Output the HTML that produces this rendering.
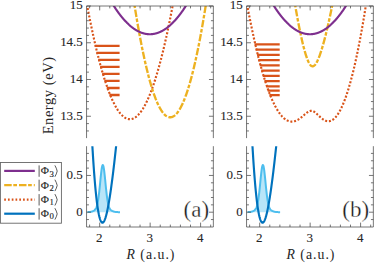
<!DOCTYPE html>
<html><head><meta charset="utf-8"><title>fig</title>
<style>html,body{margin:0;padding:0;background:#fff}svg{display:block}text{font-family:"Liberation Serif",serif}</style></head><body>
<svg width="374" height="263" viewBox="0 0 374 263">
<rect width="374" height="263" fill="#fff"/>
<clipPath id="cu0"><rect x="86.55" y="6.00" width="126.80" height="132.10"/></clipPath>
<clipPath id="cl0"><rect x="86.55" y="146.20" width="126.80" height="80.80"/></clipPath>
<g clip-path="url(#cu0)" fill="none" stroke-width="2.15">
<path d="M84.89,-6.81 L85.14,-5.41 L85.39,-4.02 L85.64,-2.64 L85.90,-1.26 L86.15,0.10 L86.40,1.47 L86.65,2.82 L86.90,4.16 L87.15,5.50 L87.40,6.83 L87.65,8.15 L87.90,9.46 L88.15,10.77 L88.40,12.07 L88.65,13.36 L88.90,14.64 L89.16,15.91 L89.41,17.18 L89.66,18.44 L89.91,19.69 L90.16,20.93 L90.41,22.17 L90.66,23.39 L90.91,24.61 L91.16,25.83 L91.41,27.03 L91.66,28.23 L91.91,29.41 L92.16,30.59 L92.41,31.77 L92.67,32.93 L92.92,34.09 L93.17,35.24 L93.42,36.38 L93.67,37.51 L93.92,38.64 L94.17,39.76 L94.42,40.87 L94.67,41.97 L94.92,43.07 L95.17,44.15 L95.42,45.23 L95.67,46.30 L95.93,47.37 L96.18,48.42 L96.43,49.47 L96.68,50.51 L96.93,51.54 L97.18,52.56 L97.43,53.58 L97.68,54.59 L97.93,55.59 L98.18,56.58 L98.43,57.57 L98.68,58.55 L98.93,59.52 L99.19,60.48 L99.44,61.43 L99.69,62.38 L99.94,63.32 L100.19,64.25 L100.44,65.17 L100.69,66.08 L100.94,66.99 L101.19,67.89 L101.44,68.78 L101.69,69.67 L101.94,70.54 L102.19,71.41 L102.44,72.27 L102.70,73.12 L102.95,73.97 L103.20,74.80 L103.45,75.63 L103.70,76.45 L103.95,77.27 L104.20,78.07 L104.45,78.87 L104.70,79.66 L104.95,80.44 L105.20,81.22 L105.45,81.98 L105.70,82.74 L105.96,83.49 L106.21,84.24 L106.46,84.97 L106.71,85.70 L106.96,86.42 L107.21,87.13 L107.46,87.83 L107.71,88.53 L107.96,89.22 L108.21,89.90 L108.46,90.57 L108.71,91.24 L108.96,91.89 L109.22,92.54 L109.47,93.18 L109.72,93.82 L109.97,94.44 L110.22,95.06 L110.47,95.67 L110.72,96.27 L110.97,96.87 L111.22,97.46 L111.47,98.03 L111.72,98.61 L111.97,99.17 L112.22,99.72 L112.48,100.27 L112.73,100.81 L112.98,101.34 L113.23,101.87 L113.48,102.38 L113.73,102.89 L113.98,103.39 L114.23,103.89 L114.48,104.37 L114.73,104.85 L114.98,105.32 L115.23,105.78 L115.48,106.24 L115.73,106.68 L115.99,107.12 L116.24,107.55 L116.49,107.97 L116.74,108.39 L116.99,108.79 L117.24,109.19 L117.49,109.59 L117.74,109.97 L117.99,110.34 L118.24,110.71 L118.49,111.07 L118.74,111.43 L118.99,111.77 L119.25,112.11 L119.50,112.44 L119.75,112.76 L120.00,113.07 L120.25,113.38 L120.50,113.67 L120.75,113.96 L121.00,114.25 L121.25,114.52 L121.50,114.79 L121.75,115.04 L122.00,115.30 L122.25,115.54 L122.50,115.77 L122.76,116.00 L123.01,116.22 L123.26,116.43 L123.51,116.64 L123.76,116.83 L124.01,117.02 L124.26,117.20 L124.51,117.37 L124.76,117.54 L125.01,117.70 L125.26,117.84 L125.51,117.99 L125.76,118.12 L126.02,118.25 L126.27,118.36 L126.52,118.47 L126.77,118.58 L127.02,118.67 L127.27,118.76 L127.52,118.84 L127.77,118.91 L128.02,118.97 L128.27,119.03 L128.52,119.07 L128.77,119.11 L129.02,119.15 L129.28,119.17 L129.53,119.19 L129.78,119.19 L130.03,119.20 L130.28,119.19 L130.53,119.17 L130.78,119.15 L131.03,119.12 L131.28,119.08 L131.53,119.04 L131.78,118.98 L132.03,118.92 L132.28,118.85 L132.53,118.77 L132.79,118.69 L133.04,118.60 L133.29,118.49 L133.54,118.39 L133.79,118.27 L134.04,118.15 L134.29,118.01 L134.54,117.87 L134.79,117.73 L135.04,117.57 L135.29,117.41 L135.54,117.24 L135.79,117.06 L136.05,116.87 L136.30,116.68 L136.55,116.47 L136.80,116.26 L137.05,116.05 L137.30,115.82 L137.55,115.59 L137.80,115.34 L138.05,115.10 L138.30,114.84 L138.55,114.57 L138.80,114.30 L139.05,114.02 L139.31,113.73 L139.56,113.44 L139.81,113.13 L140.06,112.82 L140.31,112.50 L140.56,112.17 L140.81,111.84 L141.06,111.49 L141.31,111.14 L141.56,110.79 L141.81,110.42 L142.06,110.04 L142.31,109.66 L142.56,109.27 L142.82,108.88 L143.07,108.47 L143.32,108.06 L143.57,107.64 L143.82,107.21 L144.07,106.77 L144.32,106.32 L144.57,105.87 L144.82,105.41 L145.07,104.94 L145.32,104.47 L145.57,103.98 L145.82,103.49 L146.08,102.99 L146.33,102.49 L146.58,101.97 L146.83,101.45 L147.08,100.92 L147.33,100.38 L147.58,99.83 L147.83,99.28 L148.08,98.72 L148.33,98.15 L148.58,97.57 L148.83,96.99 L149.08,96.39 L149.34,95.79 L149.59,95.18 L149.84,94.57 L150.09,93.94 L150.34,93.31 L150.59,92.67 L150.84,92.02 L151.09,91.37 L151.34,90.71 L151.59,90.03 L151.84,89.35 L152.09,88.67 L152.34,87.97 L152.59,87.27 L152.85,86.56 L153.10,85.84 L153.35,85.12 L153.60,84.38 L153.85,83.64 L154.10,82.89 L154.35,82.14 L154.60,81.37 L154.85,80.60 L155.10,79.82 L155.35,79.03 L155.60,78.23 L155.85,77.43 L156.11,76.62 L156.36,75.80 L156.61,74.97 L156.86,74.14 L157.11,73.29 L157.36,72.44 L157.61,71.58 L157.86,70.72 L158.11,69.84 L158.36,68.96 L158.61,68.07 L158.86,67.17 L159.11,66.27 L159.37,65.35 L159.62,64.43 L159.87,63.50 L160.12,62.57 L160.37,61.62 L160.62,60.67 L160.87,59.71 L161.12,58.74 L161.37,57.77 L161.62,56.78 L161.87,55.79 L162.12,54.79 L162.37,53.78 L162.62,52.77 L162.88,51.75 L163.13,50.72 L163.38,49.68 L163.63,48.63 L163.88,47.58 L164.13,46.52 L164.38,45.45 L164.63,44.37 L164.88,43.28 L165.13,42.19 L165.38,41.09 L165.63,39.98 L165.88,38.86 L166.14,37.74 L166.39,36.61 L166.64,35.47 L166.89,34.32 L167.14,33.16 L167.39,32.00 L167.64,30.83 L167.89,29.65 L168.14,28.46 L168.39,27.27 L168.64,26.07 L168.89,24.86 L169.14,23.64 L169.40,22.41 L169.65,21.18 L169.90,19.94 L170.15,18.69 L170.40,17.43 L170.65,16.17 L170.90,14.89 L171.15,13.61 L171.40,12.32 L171.65,11.03 L171.90,9.72 L172.15,8.41 L172.40,7.09 L172.65,5.77 L172.91,4.43 L173.16,3.09 L173.41,1.74 L173.66,0.38 L173.91,-0.99 L174.16,-2.36 L174.41,-3.75 L174.66,-5.14 L174.91,-6.53 L175.16,-7.94 L175.41,-9.35 L175.66,-10.77 L175.91,-12.20 L176.17,-13.64 L176.42,-15.08 L176.67,-16.54 L176.92,-18.00 L177.17,-19.46 L177.42,-20.94 L177.67,-22.42 L177.92,-23.92 L178.17,-25.41 L178.42,-26.92 L178.67,-28.44 L178.92,-29.96 L179.17,-31.49 L179.43,-33.03 L179.68,-34.57 L179.93,-36.13 L180.18,-37.69 L180.43,-39.26 L180.68,-40.84 L180.93,-42.42 L181.18,-44.02 L181.43,-45.62 L181.68,-47.23 L181.93,-48.84 L182.18,-50.47 L182.43,-52.10 L182.68,-53.74 L182.94,-55.39 L183.19,-57.04 L183.44,-58.71 L183.69,-60.38 L183.94,-62.06 L184.19,-63.74 L184.44,-65.44 L184.69,-67.14 L184.94,-68.85 L185.19,-70.57 L185.44,-72.29 L185.69,-74.03 L185.94,-75.77 L186.20,-77.52 L186.45,-79.28 L186.70,-81.04 L186.95,-82.81 L187.20,-84.59 L187.45,-86.38 L187.70,-88.18 L187.95,-89.98 L188.20,-91.79 L188.45,-93.61 L188.70,-95.44 L188.95,-97.28 L189.20,-99.12 L189.46,-100.97 L189.71,-102.83 L189.96,-104.70 L190.21,-106.57 L190.46,-108.45 L190.71,-110.34 L190.96,-112.24 L191.21,-114.15 L191.46,-116.06 L191.71,-117.98 L191.96,-119.91 L192.21,-121.85 L192.46,-123.79 L192.71,-125.74 L192.97,-127.70 L193.22,-129.67 L193.47,-131.65 L193.72,-133.63 L193.97,-135.62 L194.22,-137.62 L194.47,-139.63 L194.72,-141.64 L194.97,-143.67 L195.22,-145.70 L195.47,-147.74 L195.72,-149.78 L195.97,-151.84 L196.23,-153.90 L196.48,-155.97 L196.73,-158.05 L196.98,-160.13 L197.23,-162.22 L197.48,-164.33 L197.73,-166.43 L197.98,-168.55 L198.23,-170.68 L198.48,-172.81 L198.73,-174.95 L198.98,-177.10 L199.23,-179.25 L199.49,-181.41 L199.74,-183.59 L199.99,-185.76 L200.24,-187.95 L200.49,-190.15 L200.74,-192.35 L200.99,-194.56 L201.24,-196.78 L201.49,-199.00 L201.74,-201.24 L201.99,-203.48 L202.24,-205.73 L202.49,-207.98 L202.75,-210.25 L203.00,-212.52 L203.25,-214.80 L203.50,-217.09 L203.75,-219.39 L204.00,-221.69 L204.25,-224.00 L204.50,-226.32 L204.75,-228.65 L205.00,-230.99 L205.25,-233.33 L205.50,-235.68 L205.75,-238.04 L206.00,-240.41 L206.26,-242.78 L206.51,-245.16 L206.76,-247.55 L207.01,-249.95 L207.26,-252.36 L207.51,-254.77 L207.76,-257.19 L208.01,-259.62 L208.26,-262.06 L208.51,-264.50 L208.76,-266.95 L209.01,-269.41 L209.26,-271.88 L209.52,-274.36 L209.77,-276.84 L210.02,-279.33 L210.27,-281.83 L210.52,-284.34 L210.77,-286.86 L211.02,-289.38 L211.27,-291.91 L211.52,-294.45 L211.77,-296.99 L212.02,-299.55 L212.27,-302.11 L212.52,-304.68 L212.78,-307.26 L213.03,-309.84 L213.28,-312.44 L213.53,-315.04 L213.78,-317.64 L214.03,-320.26 L214.28,-322.89 L214.53,-325.52 L214.78,-328.16 L215.03,-330.81 L215.28,-333.46" stroke="#D95319" stroke-dasharray="2.0 1.77" stroke-width="2.15"/>
<path d="M84.89,-524.21 L85.14,-520.44 L85.39,-516.68 L85.64,-512.94 L85.90,-509.20 L86.15,-505.48 L86.40,-501.77 L86.65,-498.07 L86.90,-494.38 L87.15,-490.70 L87.40,-487.03 L87.65,-483.37 L87.90,-479.73 L88.15,-476.09 L88.40,-472.47 L88.65,-468.85 L88.90,-465.25 L89.16,-461.66 L89.41,-458.08 L89.66,-454.52 L89.91,-450.96 L90.16,-447.41 L90.41,-443.88 L90.66,-440.35 L90.91,-436.84 L91.16,-433.34 L91.41,-429.85 L91.66,-426.37 L91.91,-422.90 L92.16,-419.44 L92.41,-416.00 L92.67,-412.56 L92.92,-409.14 L93.17,-405.73 L93.42,-402.32 L93.67,-398.93 L93.92,-395.55 L94.17,-392.19 L94.42,-388.83 L94.67,-385.48 L94.92,-382.15 L95.17,-378.82 L95.42,-375.51 L95.67,-372.21 L95.93,-368.92 L96.18,-365.64 L96.43,-362.37 L96.68,-359.11 L96.93,-355.87 L97.18,-352.63 L97.43,-349.41 L97.68,-346.19 L97.93,-342.99 L98.18,-339.80 L98.43,-336.62 L98.68,-333.45 L98.93,-330.30 L99.19,-327.15 L99.44,-324.01 L99.69,-320.89 L99.94,-317.78 L100.19,-314.67 L100.44,-311.58 L100.69,-308.50 L100.94,-305.43 L101.19,-302.38 L101.44,-299.33 L101.69,-296.30 L101.94,-293.27 L102.19,-290.26 L102.44,-287.26 L102.70,-284.26 L102.95,-281.28 L103.20,-278.32 L103.45,-275.36 L103.70,-272.41 L103.95,-269.48 L104.20,-266.55 L104.45,-263.64 L104.70,-260.74 L104.95,-257.84 L105.20,-254.96 L105.45,-252.10 L105.70,-249.24 L105.96,-246.39 L106.21,-243.55 L106.46,-240.73 L106.71,-237.92 L106.96,-235.11 L107.21,-232.32 L107.46,-229.54 L107.71,-226.77 L107.96,-224.02 L108.21,-221.27 L108.46,-218.53 L108.71,-215.81 L108.96,-213.10 L109.22,-210.39 L109.47,-207.70 L109.72,-205.02 L109.97,-202.35 L110.22,-199.69 L110.47,-197.05 L110.72,-194.41 L110.97,-191.79 L111.22,-189.17 L111.47,-186.57 L111.72,-183.98 L111.97,-181.40 L112.22,-178.83 L112.48,-176.27 L112.73,-173.72 L112.98,-171.19 L113.23,-168.66 L113.48,-166.15 L113.73,-163.65 L113.98,-161.15 L114.23,-158.67 L114.48,-156.20 L114.73,-153.75 L114.98,-151.30 L115.23,-148.86 L115.48,-146.44 L115.73,-144.02 L115.99,-141.62 L116.24,-139.23 L116.49,-136.85 L116.74,-134.48 L116.99,-132.12 L117.24,-129.77 L117.49,-127.44 L117.74,-125.11 L117.99,-122.80 L118.24,-120.49 L118.49,-118.20 L118.74,-115.92 L118.99,-113.65 L119.25,-111.39 L119.50,-109.15 L119.75,-106.91 L120.00,-104.69 L120.25,-102.47 L120.50,-100.27 L120.75,-98.08 L121.00,-95.89 L121.25,-93.73 L121.50,-91.57 L121.75,-89.42 L122.00,-87.28 L122.25,-85.16 L122.50,-83.04 L122.76,-80.94 L123.01,-78.85 L123.26,-76.77 L123.51,-74.70 L123.76,-72.64 L124.01,-70.59 L124.26,-68.55 L124.51,-66.53 L124.76,-64.51 L125.01,-62.51 L125.26,-60.52 L125.51,-58.54 L125.76,-56.57 L126.02,-54.61 L126.27,-52.66 L126.52,-50.72 L126.77,-48.80 L127.02,-46.88 L127.27,-44.98 L127.52,-43.09 L127.77,-41.21 L128.02,-39.34 L128.27,-37.48 L128.52,-35.63 L128.77,-33.79 L129.02,-31.97 L129.28,-30.15 L129.53,-28.35 L129.78,-26.56 L130.03,-24.78 L130.28,-23.01 L130.53,-21.25 L130.78,-19.50 L131.03,-17.76 L131.28,-16.04 L131.53,-14.32 L131.78,-12.62 L132.03,-10.92 L132.28,-9.24 L132.53,-7.57 L132.79,-5.91 L133.04,-4.27 L133.29,-2.63 L133.54,-1.00 L133.79,0.61 L134.04,2.22 L134.29,3.81 L134.54,5.39 L134.79,6.96 L135.04,8.52 L135.29,10.07 L135.54,11.61 L135.79,13.13 L136.05,14.65 L136.30,16.15 L136.55,17.64 L136.80,19.12 L137.05,20.59 L137.30,22.05 L137.55,23.50 L137.80,24.94 L138.05,26.37 L138.30,27.78 L138.55,29.19 L138.80,30.58 L139.05,31.96 L139.31,33.33 L139.56,34.69 L139.81,36.04 L140.06,37.38 L140.31,38.70 L140.56,40.02 L140.81,41.32 L141.06,42.61 L141.31,43.90 L141.56,45.17 L141.81,46.43 L142.06,47.68 L142.31,48.91 L142.56,50.14 L142.82,51.35 L143.07,52.56 L143.32,53.75 L143.57,54.93 L143.82,56.10 L144.07,57.26 L144.32,58.41 L144.57,59.55 L144.82,60.68 L145.07,61.79 L145.32,62.90 L145.57,63.99 L145.82,65.07 L146.08,66.14 L146.33,67.20 L146.58,68.25 L146.83,69.29 L147.08,70.32 L147.33,71.33 L147.58,72.34 L147.83,73.33 L148.08,74.31 L148.33,75.28 L148.58,76.24 L148.83,77.19 L149.08,78.13 L149.34,79.06 L149.59,79.97 L149.84,80.88 L150.09,81.77 L150.34,82.65 L150.59,83.52 L150.84,84.38 L151.09,85.23 L151.34,86.07 L151.59,86.90 L151.84,87.71 L152.09,88.52 L152.34,89.31 L152.59,90.09 L152.85,90.87 L153.10,91.63 L153.35,92.37 L153.60,93.11 L153.85,93.84 L154.10,94.56 L154.35,95.26 L154.60,95.95 L154.85,96.64 L155.10,97.31 L155.35,97.97 L155.60,98.62 L155.85,99.26 L156.11,99.88 L156.36,100.50 L156.61,101.10 L156.86,101.70 L157.11,102.28 L157.36,102.85 L157.61,103.41 L157.86,103.96 L158.11,104.50 L158.36,105.03 L158.61,105.54 L158.86,106.05 L159.11,106.54 L159.37,107.02 L159.62,107.50 L159.87,107.96 L160.12,108.41 L160.37,108.84 L160.62,109.27 L160.87,109.69 L161.12,110.09 L161.37,110.49 L161.62,110.87 L161.87,111.24 L162.12,111.60 L162.37,111.95 L162.62,112.29 L162.88,112.62 L163.13,112.93 L163.38,113.24 L163.63,113.53 L163.88,113.82 L164.13,114.09 L164.38,114.35 L164.63,114.60 L164.88,114.84 L165.13,115.07 L165.38,115.28 L165.63,115.49 L165.88,115.68 L166.14,115.86 L166.39,116.04 L166.64,116.20 L166.89,116.35 L167.14,116.49 L167.39,116.61 L167.64,116.73 L167.89,116.84 L168.14,116.93 L168.39,117.01 L168.64,117.09 L168.89,117.15 L169.14,117.20 L169.40,117.24 L169.65,117.26 L169.90,117.28 L170.15,117.28 L170.40,117.28 L170.65,117.26 L170.90,117.24 L171.15,117.20 L171.40,117.15 L171.65,117.09 L171.90,117.01 L172.15,116.93 L172.40,116.84 L172.65,116.73 L172.91,116.61 L173.16,116.49 L173.41,116.35 L173.66,116.20 L173.91,116.04 L174.16,115.86 L174.41,115.68 L174.66,115.49 L174.91,115.28 L175.16,115.07 L175.41,114.84 L175.66,114.60 L175.91,114.35 L176.17,114.09 L176.42,113.82 L176.67,113.53 L176.92,113.24 L177.17,112.93 L177.42,112.62 L177.67,112.29 L177.92,111.95 L178.17,111.60 L178.42,111.24 L178.67,110.87 L178.92,110.49 L179.17,110.09 L179.43,109.69 L179.68,109.27 L179.93,108.84 L180.18,108.41 L180.43,107.96 L180.68,107.50 L180.93,107.02 L181.18,106.54 L181.43,106.05 L181.68,105.54 L181.93,105.03 L182.18,104.50 L182.43,103.96 L182.68,103.41 L182.94,102.85 L183.19,102.28 L183.44,101.70 L183.69,101.10 L183.94,100.50 L184.19,99.88 L184.44,99.26 L184.69,98.62 L184.94,97.97 L185.19,97.31 L185.44,96.64 L185.69,95.95 L185.94,95.26 L186.20,94.56 L186.45,93.84 L186.70,93.11 L186.95,92.37 L187.20,91.63 L187.45,90.87 L187.70,90.09 L187.95,89.31 L188.20,88.52 L188.45,87.71 L188.70,86.90 L188.95,86.07 L189.20,85.23 L189.46,84.38 L189.71,83.52 L189.96,82.65 L190.21,81.77 L190.46,80.88 L190.71,79.97 L190.96,79.06 L191.21,78.13 L191.46,77.19 L191.71,76.24 L191.96,75.28 L192.21,74.31 L192.46,73.33 L192.71,72.34 L192.97,71.33 L193.22,70.32 L193.47,69.29 L193.72,68.25 L193.97,67.20 L194.22,66.14 L194.47,65.07 L194.72,63.99 L194.97,62.90 L195.22,61.79 L195.47,60.68 L195.72,59.55 L195.97,58.41 L196.23,57.26 L196.48,56.10 L196.73,54.93 L196.98,53.75 L197.23,52.56 L197.48,51.35 L197.73,50.14 L197.98,48.91 L198.23,47.68 L198.48,46.43 L198.73,45.17 L198.98,43.90 L199.23,42.61 L199.49,41.32 L199.74,40.02 L199.99,38.70 L200.24,37.38 L200.49,36.04 L200.74,34.69 L200.99,33.33 L201.24,31.96 L201.49,30.58 L201.74,29.19 L201.99,27.78 L202.24,26.37 L202.49,24.94 L202.75,23.50 L203.00,22.05 L203.25,20.59 L203.50,19.12 L203.75,17.64 L204.00,16.15 L204.25,14.65 L204.50,13.13 L204.75,11.61 L205.00,10.07 L205.25,8.52 L205.50,6.96 L205.75,5.39 L206.00,3.81 L206.26,2.22 L206.51,0.61 L206.76,-1.00 L207.01,-2.63 L207.26,-4.27 L207.51,-5.91 L207.76,-7.57 L208.01,-9.24 L208.26,-10.92 L208.51,-12.62 L208.76,-14.32 L209.01,-16.04 L209.26,-17.76 L209.52,-19.50 L209.77,-21.25 L210.02,-23.01 L210.27,-24.78 L210.52,-26.56 L210.77,-28.35 L211.02,-30.15 L211.27,-31.97 L211.52,-33.79 L211.77,-35.63 L212.02,-37.48 L212.27,-39.34 L212.52,-41.21 L212.78,-43.09 L213.03,-44.98 L213.28,-46.88 L213.53,-48.80 L213.78,-50.72 L214.03,-52.66 L214.28,-54.61 L214.53,-56.57 L214.78,-58.54 L215.03,-60.52 L215.28,-62.51" stroke="#EDB120" stroke-dasharray="7.4 1.6 3.6 1.7" stroke-width="2.35" stroke-dashoffset="7.03"/>
<path d="M84.89,-57.91 L85.14,-57.20 L85.39,-56.49 L85.64,-55.79 L85.90,-55.08 L86.15,-54.38 L86.40,-53.69 L86.65,-52.99 L86.90,-52.30 L87.15,-51.62 L87.40,-50.93 L87.65,-50.25 L87.90,-49.57 L88.15,-48.89 L88.40,-48.22 L88.65,-47.54 L88.90,-46.88 L89.16,-46.21 L89.41,-45.55 L89.66,-44.89 L89.91,-44.23 L90.16,-43.57 L90.41,-42.92 L90.66,-42.27 L90.91,-41.62 L91.16,-40.98 L91.41,-40.34 L91.66,-39.70 L91.91,-39.06 L92.16,-38.43 L92.41,-37.80 L92.67,-37.17 L92.92,-36.55 L93.17,-35.92 L93.42,-35.31 L93.67,-34.69 L93.92,-34.07 L94.17,-33.46 L94.42,-32.85 L94.67,-32.25 L94.92,-31.65 L95.17,-31.05 L95.42,-30.45 L95.67,-29.85 L95.93,-29.26 L96.18,-28.67 L96.43,-28.09 L96.68,-27.50 L96.93,-26.92 L97.18,-26.34 L97.43,-25.77 L97.68,-25.19 L97.93,-24.62 L98.18,-24.06 L98.43,-23.49 L98.68,-22.93 L98.93,-22.37 L99.19,-21.82 L99.44,-21.26 L99.69,-20.71 L99.94,-20.16 L100.19,-19.62 L100.44,-19.08 L100.69,-18.54 L100.94,-18.00 L101.19,-17.46 L101.44,-16.93 L101.69,-16.40 L101.94,-15.88 L102.19,-15.35 L102.44,-14.83 L102.70,-14.32 L102.95,-13.80 L103.20,-13.29 L103.45,-12.78 L103.70,-12.27 L103.95,-11.77 L104.20,-11.27 L104.45,-10.77 L104.70,-10.27 L104.95,-9.78 L105.20,-9.29 L105.45,-8.80 L105.70,-8.32 L105.96,-7.83 L106.21,-7.36 L106.46,-6.88 L106.71,-6.40 L106.96,-5.93 L107.21,-5.47 L107.46,-5.00 L107.71,-4.54 L107.96,-4.08 L108.21,-3.62 L108.46,-3.16 L108.71,-2.71 L108.96,-2.26 L109.22,-1.82 L109.47,-1.37 L109.72,-0.93 L109.97,-0.49 L110.22,-0.06 L110.47,0.37 L110.72,0.80 L110.97,1.23 L111.22,1.66 L111.47,2.08 L111.72,2.50 L111.97,2.91 L112.22,3.33 L112.48,3.74 L112.73,4.14 L112.98,4.55 L113.23,4.95 L113.48,5.35 L113.73,5.75 L113.98,6.14 L114.23,6.53 L114.48,6.92 L114.73,7.31 L114.98,7.69 L115.23,8.07 L115.48,8.45 L115.73,8.83 L115.99,9.20 L116.24,9.57 L116.49,9.93 L116.74,10.30 L116.99,10.66 L117.24,11.02 L117.49,11.37 L117.74,11.73 L117.99,12.08 L118.24,12.42 L118.49,12.77 L118.74,13.11 L118.99,13.45 L119.25,13.79 L119.50,14.12 L119.75,14.45 L120.00,14.78 L120.25,15.10 L120.50,15.43 L120.75,15.75 L121.00,16.07 L121.25,16.38 L121.50,16.69 L121.75,17.00 L122.00,17.31 L122.25,17.61 L122.50,17.91 L122.76,18.21 L123.01,18.50 L123.26,18.80 L123.51,19.09 L123.76,19.37 L124.01,19.66 L124.26,19.94 L124.51,20.22 L124.76,20.49 L125.01,20.77 L125.26,21.04 L125.51,21.31 L125.76,21.57 L126.02,21.83 L126.27,22.09 L126.52,22.35 L126.77,22.60 L127.02,22.86 L127.27,23.10 L127.52,23.35 L127.77,23.59 L128.02,23.83 L128.27,24.07 L128.52,24.31 L128.77,24.54 L129.02,24.77 L129.28,24.99 L129.53,25.22 L129.78,25.44 L130.03,25.66 L130.28,25.87 L130.53,26.09 L130.78,26.30 L131.03,26.50 L131.28,26.71 L131.53,26.91 L131.78,27.11 L132.03,27.31 L132.28,27.50 L132.53,27.69 L132.79,27.88 L133.04,28.06 L133.29,28.25 L133.54,28.43 L133.79,28.60 L134.04,28.78 L134.29,28.95 L134.54,29.12 L134.79,29.29 L135.04,29.45 L135.29,29.61 L135.54,29.77 L135.79,29.92 L136.05,30.08 L136.30,30.22 L136.55,30.37 L136.80,30.52 L137.05,30.66 L137.30,30.80 L137.55,30.93 L137.80,31.07 L138.05,31.20 L138.30,31.32 L138.55,31.45 L138.80,31.57 L139.05,31.69 L139.31,31.81 L139.56,31.92 L139.81,32.03 L140.06,32.14 L140.31,32.25 L140.56,32.35 L140.81,32.45 L141.06,32.55 L141.31,32.64 L141.56,32.73 L141.81,32.82 L142.06,32.91 L142.31,32.99 L142.56,33.07 L142.82,33.15 L143.07,33.23 L143.32,33.30 L143.57,33.37 L143.82,33.44 L144.07,33.50 L144.32,33.57 L144.57,33.62 L144.82,33.68 L145.07,33.73 L145.32,33.78 L145.57,33.83 L145.82,33.88 L146.08,33.92 L146.33,33.96 L146.58,34.00 L146.83,34.03 L147.08,34.06 L147.33,34.09 L147.58,34.12 L147.83,34.14 L148.08,34.16 L148.33,34.18 L148.58,34.20 L148.83,34.21 L149.08,34.22 L149.34,34.22 L149.59,34.23 L149.84,34.23 L150.09,34.23 L150.34,34.22 L150.59,34.22 L150.84,34.21 L151.09,34.20 L151.34,34.18 L151.59,34.16 L151.84,34.14 L152.09,34.12 L152.34,34.09 L152.59,34.06 L152.85,34.03 L153.10,34.00 L153.35,33.96 L153.60,33.92 L153.85,33.88 L154.10,33.83 L154.35,33.78 L154.60,33.73 L154.85,33.68 L155.10,33.62 L155.35,33.57 L155.60,33.50 L155.85,33.44 L156.11,33.37 L156.36,33.30 L156.61,33.23 L156.86,33.15 L157.11,33.07 L157.36,32.99 L157.61,32.91 L157.86,32.82 L158.11,32.73 L158.36,32.64 L158.61,32.55 L158.86,32.45 L159.11,32.35 L159.37,32.25 L159.62,32.14 L159.87,32.03 L160.12,31.92 L160.37,31.81 L160.62,31.69 L160.87,31.57 L161.12,31.45 L161.37,31.32 L161.62,31.20 L161.87,31.07 L162.12,30.93 L162.37,30.80 L162.62,30.66 L162.88,30.52 L163.13,30.37 L163.38,30.22 L163.63,30.08 L163.88,29.92 L164.13,29.77 L164.38,29.61 L164.63,29.45 L164.88,29.29 L165.13,29.12 L165.38,28.95 L165.63,28.78 L165.88,28.60 L166.14,28.43 L166.39,28.25 L166.64,28.06 L166.89,27.88 L167.14,27.69 L167.39,27.50 L167.64,27.31 L167.89,27.11 L168.14,26.91 L168.39,26.71 L168.64,26.50 L168.89,26.30 L169.14,26.09 L169.40,25.87 L169.65,25.66 L169.90,25.44 L170.15,25.22 L170.40,24.99 L170.65,24.77 L170.90,24.54 L171.15,24.31 L171.40,24.07 L171.65,23.83 L171.90,23.59 L172.15,23.35 L172.40,23.10 L172.65,22.86 L172.91,22.60 L173.16,22.35 L173.41,22.09 L173.66,21.83 L173.91,21.57 L174.16,21.31 L174.41,21.04 L174.66,20.77 L174.91,20.49 L175.16,20.22 L175.41,19.94 L175.66,19.66 L175.91,19.37 L176.17,19.09 L176.42,18.80 L176.67,18.50 L176.92,18.21 L177.17,17.91 L177.42,17.61 L177.67,17.31 L177.92,17.00 L178.17,16.69 L178.42,16.38 L178.67,16.07 L178.92,15.75 L179.17,15.43 L179.43,15.10 L179.68,14.78 L179.93,14.45 L180.18,14.12 L180.43,13.79 L180.68,13.45 L180.93,13.11 L181.18,12.77 L181.43,12.42 L181.68,12.08 L181.93,11.73 L182.18,11.37 L182.43,11.02 L182.68,10.66 L182.94,10.30 L183.19,9.93 L183.44,9.57 L183.69,9.20 L183.94,8.83 L184.19,8.45 L184.44,8.07 L184.69,7.69 L184.94,7.31 L185.19,6.92 L185.44,6.53 L185.69,6.14 L185.94,5.75 L186.20,5.35 L186.45,4.95 L186.70,4.55 L186.95,4.14 L187.20,3.74 L187.45,3.33 L187.70,2.91 L187.95,2.50 L188.20,2.08 L188.45,1.66 L188.70,1.23 L188.95,0.80 L189.20,0.37 L189.46,-0.06 L189.71,-0.49 L189.96,-0.93 L190.21,-1.37 L190.46,-1.82 L190.71,-2.26 L190.96,-2.71 L191.21,-3.16 L191.46,-3.62 L191.71,-4.08 L191.96,-4.54 L192.21,-5.00 L192.46,-5.47 L192.71,-5.93 L192.97,-6.40 L193.22,-6.88 L193.47,-7.36 L193.72,-7.83 L193.97,-8.32 L194.22,-8.80 L194.47,-9.29 L194.72,-9.78 L194.97,-10.27 L195.22,-10.77 L195.47,-11.27 L195.72,-11.77 L195.97,-12.27 L196.23,-12.78 L196.48,-13.29 L196.73,-13.80 L196.98,-14.32 L197.23,-14.83 L197.48,-15.35 L197.73,-15.88 L197.98,-16.40 L198.23,-16.93 L198.48,-17.46 L198.73,-18.00 L198.98,-18.54 L199.23,-19.08 L199.49,-19.62 L199.74,-20.16 L199.99,-20.71 L200.24,-21.26 L200.49,-21.82 L200.74,-22.37 L200.99,-22.93 L201.24,-23.49 L201.49,-24.06 L201.74,-24.62 L201.99,-25.19 L202.24,-25.77 L202.49,-26.34 L202.75,-26.92 L203.00,-27.50 L203.25,-28.09 L203.50,-28.67 L203.75,-29.26 L204.00,-29.85 L204.25,-30.45 L204.50,-31.05 L204.75,-31.65 L205.00,-32.25 L205.25,-32.85 L205.50,-33.46 L205.75,-34.07 L206.00,-34.69 L206.26,-35.31 L206.51,-35.92 L206.76,-36.55 L207.01,-37.17 L207.26,-37.80 L207.51,-38.43 L207.76,-39.06 L208.01,-39.70 L208.26,-40.34 L208.51,-40.98 L208.76,-41.62 L209.01,-42.27 L209.26,-42.92 L209.52,-43.57 L209.77,-44.23 L210.02,-44.89 L210.27,-45.55 L210.52,-46.21 L210.77,-46.88 L211.02,-47.54 L211.27,-48.22 L211.52,-48.89 L211.77,-49.57 L212.02,-50.25 L212.27,-50.93 L212.52,-51.62 L212.78,-52.30 L213.03,-52.99 L213.28,-53.69 L213.53,-54.38 L213.78,-55.08 L214.03,-55.79 L214.28,-56.49 L214.53,-57.20 L214.78,-57.91 L215.03,-58.62 L215.28,-59.34" stroke="#7E2F8E"/>
<line x1="94.76" y1="45.80" x2="119.60" y2="45.80" stroke="#D95319" stroke-width="2.3"/>
<line x1="96.44" y1="52.83" x2="119.60" y2="52.83" stroke="#D95319" stroke-width="2.3"/>
<line x1="98.22" y1="59.86" x2="119.60" y2="59.86" stroke="#D95319" stroke-width="2.3"/>
<line x1="100.11" y1="66.89" x2="119.60" y2="66.89" stroke="#D95319" stroke-width="2.3"/>
<line x1="102.13" y1="73.92" x2="119.60" y2="73.92" stroke="#D95319" stroke-width="2.3"/>
<line x1="104.32" y1="80.95" x2="119.60" y2="80.95" stroke="#D95319" stroke-width="2.3"/>
<line x1="106.71" y1="87.98" x2="119.60" y2="87.98" stroke="#D95319" stroke-width="2.3"/>
<line x1="109.40" y1="95.01" x2="119.60" y2="95.01" stroke="#D95319" stroke-width="2.3"/>
</g>
<g clip-path="url(#cl0)" stroke-width="2.15">
<path d="M87.40,212.14 L87.65,212.13 L87.90,212.12 L88.15,212.10 L88.40,212.09 L88.65,212.07 L88.90,212.05 L89.16,212.03 L89.41,212.00 L89.66,211.98 L89.91,211.94 L90.16,211.91 L90.41,211.87 L90.66,211.83 L90.91,211.78 L91.16,211.73 L91.41,211.67 L91.66,211.60 L91.91,211.53 L92.16,211.46 L92.42,211.37 L92.67,211.28 L92.92,211.17 L93.17,211.06 L93.42,210.93 L93.67,210.80 L93.92,210.64 L94.17,210.47 L94.42,210.28 L94.67,210.06 L94.92,209.81 L95.17,209.53 L95.42,209.20 L95.67,208.82 L95.93,208.38 L96.18,207.87 L96.43,207.28 L96.68,206.60 L96.93,205.80 L97.18,204.89 L97.43,203.84 L97.68,202.64 L97.93,201.29 L98.18,199.77 L98.43,198.08 L98.68,196.22 L98.93,194.20 L99.19,192.03 L99.44,189.72 L99.69,187.29 L99.94,184.79 L100.19,182.24 L100.44,179.70 L100.69,177.21 L100.94,174.81 L101.19,172.57 L101.44,170.54 L101.69,168.77 L101.94,167.30 L102.19,166.17 L102.44,165.41 L102.70,165.05 L102.95,165.09 L103.20,165.53 L103.45,166.36 L103.70,167.56 L103.95,169.10 L104.20,170.93 L104.45,173.01 L104.70,175.28 L104.95,177.70 L105.20,180.21 L105.45,182.76 L105.70,185.30 L105.96,187.79 L106.21,190.19 L106.46,192.47 L106.71,194.62 L106.96,196.61 L107.21,198.43 L107.46,200.09 L107.71,201.57 L107.96,202.89 L108.21,204.06 L108.46,205.08 L108.71,205.97 L108.96,206.74 L109.22,207.41 L109.47,207.98 L109.72,208.48 L109.97,208.90 L110.22,209.27 L110.47,209.59 L110.72,209.86 L110.97,210.10 L111.22,210.32 L111.47,210.51 L111.72,210.67 L111.97,210.83 L112.22,210.96 L112.48,211.08 L112.73,211.19 L112.98,211.30 L113.23,211.39 L113.48,211.47 L113.73,211.55 L113.98,211.62 L114.23,211.68 L114.48,211.74 L114.73,211.79 L114.98,211.84 L115.23,211.88 L115.48,211.92 L115.73,211.95 L115.99,211.98 L116.24,212.01 L116.49,212.03 L116.74,212.05 L116.99,212.07 L117.24,212.09 L117.49,212.11 L117.74,212.12 L117.99,212.13 L118.24,212.14 L118.49,212.15 L118.74,212.16 L118.99,212.16 L119.25,212.17 L119.50,212.17 L119.75,212.18 L120.00,212.18 L120.00,212.20 L87.40,212.20 Z" fill="#4DBEEE" fill-opacity="0.40" stroke="none"/>
<path d="M87.40,212.14 L87.65,212.13 L87.90,212.12 L88.15,212.10 L88.40,212.09 L88.65,212.07 L88.90,212.05 L89.16,212.03 L89.41,212.00 L89.66,211.98 L89.91,211.94 L90.16,211.91 L90.41,211.87 L90.66,211.83 L90.91,211.78 L91.16,211.73 L91.41,211.67 L91.66,211.60 L91.91,211.53 L92.16,211.46 L92.42,211.37 L92.67,211.28 L92.92,211.17 L93.17,211.06 L93.42,210.93 L93.67,210.80 L93.92,210.64 L94.17,210.47 L94.42,210.28 L94.67,210.06 L94.92,209.81 L95.17,209.53 L95.42,209.20 L95.67,208.82 L95.93,208.38 L96.18,207.87 L96.43,207.28 L96.68,206.60 L96.93,205.80 L97.18,204.89 L97.43,203.84 L97.68,202.64 L97.93,201.29 L98.18,199.77 L98.43,198.08 L98.68,196.22 L98.93,194.20 L99.19,192.03 L99.44,189.72 L99.69,187.29 L99.94,184.79 L100.19,182.24 L100.44,179.70 L100.69,177.21 L100.94,174.81 L101.19,172.57 L101.44,170.54 L101.69,168.77 L101.94,167.30 L102.19,166.17 L102.44,165.41 L102.70,165.05 L102.95,165.09 L103.20,165.53 L103.45,166.36 L103.70,167.56 L103.95,169.10 L104.20,170.93 L104.45,173.01 L104.70,175.28 L104.95,177.70 L105.20,180.21 L105.45,182.76 L105.70,185.30 L105.96,187.79 L106.21,190.19 L106.46,192.47 L106.71,194.62 L106.96,196.61 L107.21,198.43 L107.46,200.09 L107.71,201.57 L107.96,202.89 L108.21,204.06 L108.46,205.08 L108.71,205.97 L108.96,206.74 L109.22,207.41 L109.47,207.98 L109.72,208.48 L109.97,208.90 L110.22,209.27 L110.47,209.59 L110.72,209.86 L110.97,210.10 L111.22,210.32 L111.47,210.51 L111.72,210.67 L111.97,210.83 L112.22,210.96 L112.48,211.08 L112.73,211.19 L112.98,211.30 L113.23,211.39 L113.48,211.47 L113.73,211.55 L113.98,211.62 L114.23,211.68 L114.48,211.74 L114.73,211.79 L114.98,211.84 L115.23,211.88 L115.48,211.92 L115.73,211.95 L115.99,211.98 L116.24,212.01 L116.49,212.03 L116.74,212.05 L116.99,212.07 L117.24,212.09 L117.49,212.11 L117.74,212.12 L117.99,212.13 L118.24,212.14 L118.49,212.15 L118.74,212.16 L118.99,212.16 L119.25,212.17 L119.50,212.17 L119.75,212.18 L120.00,212.18" fill="none" stroke="#4DBEEE" stroke-width="2.0"/>
<path d="M84.89,-62.85 L85.14,-52.82 L85.39,-43.03 L85.64,-33.48 L85.90,-24.17 L86.15,-15.08 L86.40,-6.23 L86.65,2.40 L86.90,10.81 L87.15,19.01 L87.40,26.99 L87.65,34.76 L87.90,42.33 L88.15,49.69 L88.40,56.85 L88.65,63.82 L88.90,70.59 L89.16,77.17 L89.41,83.57 L89.66,89.78 L89.91,95.81 L90.16,101.67 L90.41,107.34 L90.66,112.85 L90.91,118.19 L91.16,123.36 L91.41,128.37 L91.66,133.21 L91.91,137.90 L92.16,142.44 L92.41,146.82 L92.67,151.05 L92.92,155.13 L93.17,159.07 L93.42,162.86 L93.67,166.52 L93.92,170.03 L94.17,173.42 L94.42,176.66 L94.67,179.78 L94.92,182.77 L95.17,185.63 L95.42,188.37 L95.67,190.99 L95.93,193.48 L96.18,195.86 L96.43,198.13 L96.68,200.28 L96.93,202.31 L97.18,204.24 L97.43,206.06 L97.68,207.78 L97.93,209.39 L98.18,210.90 L98.43,212.31 L98.68,213.62 L98.93,214.83 L99.19,215.95 L99.44,216.98 L99.69,217.91 L99.94,218.76 L100.19,219.52 L100.44,220.19 L100.69,220.77 L100.94,221.28 L101.19,221.70 L101.44,222.04 L101.69,222.30 L101.94,222.49 L102.19,222.60 L102.44,222.64 L102.70,222.60 L102.95,222.49 L103.20,222.32 L103.45,222.07 L103.70,221.76 L103.95,221.38 L104.20,220.94 L104.45,220.43 L104.70,219.86 L104.95,219.23 L105.20,218.54 L105.45,217.80 L105.70,216.99 L105.96,216.13 L106.21,215.22 L106.46,214.25 L106.71,213.23 L106.96,212.15 L107.21,211.03 L107.46,209.86 L107.71,208.64 L107.96,207.37 L108.21,206.05 L108.46,204.70 L108.71,203.29 L108.96,201.85 L109.22,200.36 L109.47,198.83 L109.72,197.26 L109.97,195.65 L110.22,194.00 L110.47,192.31 L110.72,190.59 L110.97,188.83 L111.22,187.03 L111.47,185.20 L111.72,183.34 L111.97,181.45 L112.22,179.52 L112.48,177.56 L112.73,175.57 L112.98,173.55 L113.23,171.51 L113.48,169.43 L113.73,167.33 L113.98,165.20 L114.23,163.04 L114.48,160.86 L114.73,158.66 L114.98,156.43 L115.23,154.18 L115.48,151.90 L115.73,149.60 L115.99,147.28 L116.24,144.94 L116.49,142.58 L116.74,140.20 L116.99,137.80 L117.24,135.39 L117.49,132.95 L117.74,130.50 L117.99,128.03 L118.24,125.54 L118.49,123.04 L118.74,120.52 L118.99,117.99 L119.25,115.44 L119.50,112.88 L119.75,110.31 L120.00,107.72 L120.25,105.12 L120.50,102.51 L120.75,99.89 L121.00,97.26 L121.25,94.61 L121.50,91.96 L121.75,89.30 L122.00,86.62 L122.25,83.94 L122.50,81.25 L122.76,78.55 L123.01,75.84 L123.26,73.13 L123.51,70.41 L123.76,67.68 L124.01,64.95 L124.26,62.21 L124.51,59.46 L124.76,56.71 L125.01,53.95 L125.26,51.19 L125.51,48.43 L125.76,45.66 L126.02,42.89 L126.27,40.11 L126.52,37.33 L126.77,34.55 L127.02,31.76 L127.27,28.98 L127.52,26.19 L127.77,23.40 L128.02,20.61 L128.27,17.82 L128.52,15.02 L128.77,12.23 L129.02,9.43 L129.28,6.64 L129.53,3.84 L129.78,1.05 L130.03,-1.75 L130.28,-4.54 L130.53,-7.33 L130.78,-10.12 L131.03,-12.91 L131.28,-15.70 L131.53,-18.48 L131.78,-21.27 L132.03,-24.05 L132.28,-26.83 L132.53,-29.61 L132.79,-32.38 L133.04,-35.15 L133.29,-37.92 L133.54,-40.68 L133.79,-43.45 L134.04,-46.20 L134.29,-48.96 L134.54,-51.71 L134.79,-54.45 L135.04,-57.19 L135.29,-59.93 L135.54,-62.66 L135.79,-65.39 L136.05,-68.12 L136.30,-70.83 L136.55,-73.55 L136.80,-76.25 L137.05,-78.96 L137.30,-81.65 L137.55,-84.35 L137.80,-87.03 L138.05,-89.71 L138.30,-92.39 L138.55,-95.05 L138.80,-97.72 L139.05,-100.37 L139.31,-103.02 L139.56,-105.66 L139.81,-108.30 L140.06,-110.93 L140.31,-113.55 L140.56,-116.17 L140.81,-118.78 L141.06,-121.38 L141.31,-123.97 L141.56,-126.56 L141.81,-129.14 L142.06,-131.72 L142.31,-134.28 L142.56,-136.84 L142.82,-139.39 L143.07,-141.93 L143.32,-144.47 L143.57,-147.00 L143.82,-149.52 L144.07,-152.03 L144.32,-154.54 L144.57,-157.03 L144.82,-159.52 L145.07,-162.00 L145.32,-164.47 L145.57,-166.94 L145.82,-169.39 L146.08,-171.84 L146.33,-174.28 L146.58,-176.71 L146.83,-179.13 L147.08,-181.55 L147.33,-183.95 L147.58,-186.35 L147.83,-188.74 L148.08,-191.12 L148.33,-193.49 L148.58,-195.85 L148.83,-198.21 L149.08,-200.55 L149.34,-202.89 L149.59,-205.22 L149.84,-207.53 L150.09,-209.85 L150.34,-212.15 L150.59,-214.44 L150.84,-216.72 L151.09,-219.00 L151.34,-221.26 L151.59,-223.52 L151.84,-225.77 L152.09,-228.01 L152.34,-230.24 L152.59,-232.46 L152.85,-234.67 L153.10,-236.87 L153.35,-239.07 L153.60,-241.25 L153.85,-243.43 L154.10,-245.59 L154.35,-247.75 L154.60,-249.90 L154.85,-252.04 L155.10,-254.17 L155.35,-256.29 L155.60,-258.40 L155.85,-260.51 L156.11,-262.60 L156.36,-264.68 L156.61,-266.76 L156.86,-268.83 L157.11,-270.89 L157.36,-272.93 L157.61,-274.97 L157.86,-277.00 L158.11,-279.03 L158.36,-281.04 L158.61,-283.04 L158.86,-285.04 L159.11,-287.02 L159.37,-289.00 L159.62,-290.96 L159.87,-292.92 L160.12,-294.87 L160.37,-296.81 L160.62,-298.74 L160.87,-300.67 L161.12,-302.58 L161.37,-304.48 L161.62,-306.38 L161.87,-308.27 L162.12,-310.14 L162.37,-312.01 L162.62,-313.87 L162.88,-315.72 L163.13,-317.57 L163.38,-319.40 L163.63,-321.22 L163.88,-323.04 L164.13,-324.85 L164.38,-326.65 L164.63,-328.44 L164.88,-330.22 L165.13,-331.99 L165.38,-333.75 L165.63,-335.51 L165.88,-337.25 L166.14,-338.99 L166.39,-340.72 L166.64,-342.44 L166.89,-344.15 L167.14,-345.86 L167.39,-347.55 L167.64,-349.24 L167.89,-350.91 L168.14,-352.58 L168.39,-354.25 L168.64,-355.90 L168.89,-357.54 L169.14,-359.18 L169.40,-360.81 L169.65,-362.43 L169.90,-364.04 L170.15,-365.64 L170.40,-367.23 L170.65,-368.82 L170.90,-370.40 L171.15,-371.97 L171.40,-373.53 L171.65,-375.09 L171.90,-376.63 L172.15,-378.17 L172.40,-379.70 L172.65,-381.22 L172.91,-382.73 L173.16,-384.24 L173.41,-385.74 L173.66,-387.23 L173.91,-388.71 L174.16,-390.19 L174.41,-391.65 L174.66,-393.11 L174.91,-394.56 L175.16,-396.01 L175.41,-397.44 L175.66,-398.87 L175.91,-400.29 L176.17,-401.70 L176.42,-403.11 L176.67,-404.51 L176.92,-405.90 L177.17,-407.28 L177.42,-408.65 L177.67,-410.02 L177.92,-411.38 L178.17,-412.74 L178.42,-414.08 L178.67,-415.42 L178.92,-416.75 L179.17,-418.08 L179.43,-419.39 L179.68,-420.70 L179.93,-422.00 L180.18,-423.30 L180.43,-424.59 L180.68,-425.87 L180.93,-427.14 L181.18,-428.41 L181.43,-429.67 L181.68,-430.92 L181.93,-432.17 L182.18,-433.41 L182.43,-434.64 L182.68,-435.87 L182.94,-437.09 L183.19,-438.30 L183.44,-439.50 L183.69,-440.70 L183.94,-441.89 L184.19,-443.08 L184.44,-444.26 L184.69,-445.43 L184.94,-446.59 L185.19,-447.75 L185.44,-448.91 L185.69,-450.05 L185.94,-451.19 L186.20,-452.32 L186.45,-453.45 L186.70,-454.57 L186.95,-455.68 L187.20,-456.79 L187.45,-457.89 L187.70,-458.99 L187.95,-460.08 L188.20,-461.16 L188.45,-462.24 L188.70,-463.31 L188.95,-464.37 L189.20,-465.43 L189.46,-466.48 L189.71,-467.53 L189.96,-468.57 L190.21,-469.60 L190.46,-470.63 L190.71,-471.65 L190.96,-472.67 L191.21,-473.68 L191.46,-474.68 L191.71,-475.68 L191.96,-476.67 L192.21,-477.66 L192.46,-478.64 L192.71,-479.62 L192.97,-480.59 L193.22,-481.55 L193.47,-482.51 L193.72,-483.47 L193.97,-484.41 L194.22,-485.36 L194.47,-486.29 L194.72,-487.23 L194.97,-488.15 L195.22,-489.07 L195.47,-489.99 L195.72,-490.90 L195.97,-491.80 L196.23,-492.70 L196.48,-493.60 L196.73,-494.48 L196.98,-495.37 L197.23,-496.25 L197.48,-497.12 L197.73,-497.99 L197.98,-498.85 L198.23,-499.71 L198.48,-500.56 L198.73,-501.41 L198.98,-502.25 L199.23,-503.09 L199.49,-503.92 L199.74,-504.75 L199.99,-505.58 L200.24,-506.39 L200.49,-507.21 L200.74,-508.02 L200.99,-508.82 L201.24,-509.62 L201.49,-510.41 L201.74,-511.20 L201.99,-511.99 L202.24,-512.77 L202.49,-513.54 L202.75,-514.31 L203.00,-515.08 L203.25,-515.84 L203.50,-516.60 L203.75,-517.35 L204.00,-518.10 L204.25,-518.84 L204.50,-519.58 L204.75,-520.32 L205.00,-521.05 L205.25,-521.77 L205.50,-522.50 L205.75,-523.21 L206.00,-523.93 L206.26,-524.64 L206.51,-525.34 L206.76,-526.04 L207.01,-526.74 L207.26,-527.43 L207.51,-528.12 L207.76,-528.80 L208.01,-529.48 L208.26,-530.16 L208.51,-530.83 L208.76,-531.49 L209.01,-532.16 L209.26,-532.82 L209.52,-533.47 L209.77,-534.12 L210.02,-534.77 L210.27,-535.41 L210.52,-536.05 L210.77,-536.69 L211.02,-537.32 L211.27,-537.95 L211.52,-538.57 L211.77,-539.19 L212.02,-539.81 L212.27,-540.42 L212.52,-541.03 L212.78,-541.64 L213.03,-542.24 L213.28,-542.84 L213.53,-543.43 L213.78,-544.02 L214.03,-544.61 L214.28,-545.19 L214.53,-545.77 L214.78,-546.35 L215.03,-546.92 L215.28,-547.49" fill="none" stroke="#0072BD"/>
</g>
<path d="M86.55,138.10 V6.00 H213.35 V138.10 M86.55,146.20 V227.00 H213.35 V146.20 M89.61,6.00 v2.4 M89.61,227.00 v-2.4 M99.70,6.00 v4.4 M99.70,227.00 v-4.4 M109.79,6.00 v2.4 M109.79,227.00 v-2.4 M119.88,6.00 v2.4 M119.88,227.00 v-2.4 M129.97,6.00 v2.4 M129.97,227.00 v-2.4 M140.06,6.00 v2.4 M140.06,227.00 v-2.4 M150.15,6.00 v4.4 M150.15,227.00 v-4.4 M160.24,6.00 v2.4 M160.24,227.00 v-2.4 M170.33,6.00 v2.4 M170.33,227.00 v-2.4 M180.42,6.00 v2.4 M180.42,227.00 v-2.4 M190.51,6.00 v2.4 M190.51,227.00 v-2.4 M200.60,6.00 v4.4 M200.60,227.00 v-4.4 M210.69,6.00 v2.4 M210.69,227.00 v-2.4 M86.55,130.95 h2.4 M213.35,130.95 h-2.4 M86.55,123.60 h2.4 M213.35,123.60 h-2.4 M86.55,116.25 h4.4 M213.35,116.25 h-4.4 M86.55,108.90 h2.4 M213.35,108.90 h-2.4 M86.55,101.55 h2.4 M213.35,101.55 h-2.4 M86.55,94.20 h2.4 M213.35,94.20 h-2.4 M86.55,86.85 h2.4 M213.35,86.85 h-2.4 M86.55,79.50 h4.4 M213.35,79.50 h-4.4 M86.55,72.15 h2.4 M213.35,72.15 h-2.4 M86.55,64.80 h2.4 M213.35,64.80 h-2.4 M86.55,57.45 h2.4 M213.35,57.45 h-2.4 M86.55,50.10 h2.4 M213.35,50.10 h-2.4 M86.55,42.75 h4.4 M213.35,42.75 h-4.4 M86.55,35.40 h2.4 M213.35,35.40 h-2.4 M86.55,28.05 h2.4 M213.35,28.05 h-2.4 M86.55,20.70 h2.4 M213.35,20.70 h-2.4 M86.55,13.35 h2.4 M213.35,13.35 h-2.4 M86.55,6.00 h4.4 M213.35,6.00 h-4.4 M86.55,219.55 h2.4 M213.35,219.55 h-2.4 M86.55,212.20 h4.4 M213.35,212.20 h-4.4 M86.55,204.85 h2.4 M213.35,204.85 h-2.4 M86.55,197.50 h2.4 M213.35,197.50 h-2.4 M86.55,190.15 h2.4 M213.35,190.15 h-2.4 M86.55,182.80 h2.4 M213.35,182.80 h-2.4 M86.55,175.45 h4.4 M213.35,175.45 h-4.4 M86.55,168.10 h2.4 M213.35,168.10 h-2.4 M86.55,160.75 h2.4 M213.35,160.75 h-2.4 M86.55,153.40 h2.4 M213.35,153.40 h-2.4" fill="none" stroke="#4a4a4a" stroke-width="0.75"/>
<g font-size="13" fill="#262626" stroke="#262626" stroke-width="0.1" letter-spacing="-0.1">
<text x="82.55" y="9.30" text-anchor="end">15</text>
<text x="82.55" y="46.05" text-anchor="end">14.5</text>
<text x="82.55" y="82.80" text-anchor="end">14</text>
<text x="82.55" y="119.55" text-anchor="end">13.5</text>
<text x="82.55" y="178.75" text-anchor="end">0.5</text>
<text x="82.55" y="215.50" text-anchor="end">0</text>
<text x="99.30" y="242.4" text-anchor="middle">2</text>
<text x="149.75" y="242.4" text-anchor="middle">3</text>
<text x="200.20" y="242.4" text-anchor="middle">4</text>
</g>
<text x="150.95" y="258.5" text-anchor="middle" font-size="13.8" fill="#262626" letter-spacing="1.0"><tspan font-style="italic">R</tspan> (a.u.)</text>
<text x="209.05" y="216.6" text-anchor="end" font-size="23" fill="#1a1a1a" stroke="#fff" stroke-width="0.3" letter-spacing="0">(a)</text>
<clipPath id="cu160"><rect x="246.55" y="6.00" width="126.80" height="132.10"/></clipPath>
<clipPath id="cl160"><rect x="246.55" y="146.20" width="126.80" height="80.80"/></clipPath>
<g clip-path="url(#cu160)" fill="none" stroke-width="2.15">
<path d="M244.99,-6.79 L245.24,-5.39 L245.49,-4.00 L245.74,-2.62 L246.00,-1.24 L246.25,0.13 L246.50,1.49 L246.75,2.84 L247.00,4.19 L247.25,5.53 L247.50,6.85 L247.75,8.18 L248.00,9.49 L248.25,10.80 L248.50,12.10 L248.75,13.39 L249.00,14.67 L249.26,15.95 L249.51,17.21 L249.76,18.47 L250.01,19.73 L250.26,20.97 L250.51,22.21 L250.76,23.43 L251.01,24.66 L251.26,25.87 L251.51,27.07 L251.76,28.27 L252.01,29.46 L252.26,30.64 L252.51,31.82 L252.77,32.98 L253.02,34.14 L253.27,35.29 L253.52,36.44 L253.77,37.57 L254.02,38.70 L254.27,39.82 L254.52,40.93 L254.77,42.04 L255.02,43.13 L255.27,44.22 L255.52,45.30 L255.77,46.38 L256.03,47.44 L256.28,48.50 L256.53,49.55 L256.78,50.59 L257.03,51.63 L257.28,52.65 L257.53,53.67 L257.78,54.69 L258.03,55.69 L258.28,56.69 L258.53,57.67 L258.78,58.65 L259.03,59.63 L259.29,60.59 L259.54,61.55 L259.79,62.50 L260.04,63.44 L260.29,64.37 L260.54,65.30 L260.79,66.22 L261.04,67.13 L261.29,68.03 L261.54,68.93 L261.79,69.82 L262.04,70.70 L262.29,71.57 L262.55,72.43 L262.80,73.29 L263.05,74.14 L263.30,74.98 L263.55,75.82 L263.80,76.64 L264.05,77.46 L264.30,78.27 L264.55,79.07 L264.80,79.87 L265.05,80.66 L265.30,81.44 L265.55,82.21 L265.80,82.97 L266.06,83.73 L266.31,84.48 L266.56,85.22 L266.81,85.96 L267.06,86.68 L267.31,87.40 L267.56,88.11 L267.81,88.82 L268.06,89.51 L268.31,90.20 L268.56,90.88 L268.81,91.55 L269.06,92.22 L269.32,92.88 L269.57,93.53 L269.82,94.17 L270.07,94.80 L270.32,95.43 L270.57,96.05 L270.82,96.66 L271.07,97.27 L271.32,97.86 L271.57,98.45 L271.82,99.03 L272.07,99.61 L272.32,100.18 L272.58,100.73 L272.83,101.29 L273.08,101.83 L273.33,102.37 L273.58,102.89 L273.83,103.41 L274.08,103.93 L274.33,104.43 L274.58,104.93 L274.83,105.42 L275.08,105.91 L275.33,106.38 L275.58,106.85 L275.83,107.31 L276.09,107.77 L276.34,108.21 L276.59,108.65 L276.84,109.08 L277.09,109.50 L277.34,109.92 L277.59,110.33 L277.84,110.73 L278.09,111.12 L278.34,111.51 L278.59,111.89 L278.84,112.26 L279.09,112.62 L279.35,112.98 L279.60,113.33 L279.85,113.67 L280.10,114.00 L280.35,114.33 L280.60,114.65 L280.85,114.96 L281.10,115.27 L281.35,115.56 L281.60,115.85 L281.85,116.14 L282.10,116.41 L282.35,116.68 L282.61,116.94 L282.86,117.19 L283.11,117.44 L283.36,117.68 L283.61,117.91 L283.86,118.14 L284.11,118.35 L284.36,118.56 L284.61,118.77 L284.86,118.96 L285.11,119.15 L285.36,119.33 L285.61,119.51 L285.86,119.67 L286.12,119.83 L286.37,119.98 L286.62,120.13 L286.87,120.27 L287.12,120.40 L287.37,120.52 L287.62,120.64 L287.87,120.75 L288.12,120.86 L288.37,120.95 L288.62,121.04 L288.87,121.12 L289.12,121.20 L289.38,121.27 L289.63,121.33 L289.88,121.39 L290.13,121.43 L290.38,121.48 L290.63,121.51 L290.88,121.54 L291.13,121.56 L291.38,121.57 L291.63,121.58 L291.88,121.58 L292.13,121.58 L292.38,121.57 L292.63,121.55 L292.89,121.52 L293.14,121.49 L293.39,121.45 L293.64,121.41 L293.89,121.36 L294.14,121.30 L294.39,121.24 L294.64,121.17 L294.89,121.10 L295.14,121.02 L295.39,120.93 L295.64,120.84 L295.89,120.74 L296.15,120.64 L296.40,120.53 L296.65,120.41 L296.90,120.29 L297.15,120.17 L297.40,120.03 L297.65,119.90 L297.90,119.75 L298.15,119.61 L298.40,119.46 L298.65,119.30 L298.90,119.14 L299.15,118.97 L299.41,118.80 L299.66,118.63 L299.91,118.45 L300.16,118.26 L300.41,118.08 L300.66,117.89 L300.91,117.69 L301.16,117.49 L301.41,117.29 L301.66,117.09 L301.91,116.88 L302.16,116.68 L302.41,116.46 L302.67,116.25 L302.92,116.04 L303.17,115.82 L303.42,115.61 L303.67,115.39 L303.92,115.17 L304.17,114.95 L304.42,114.74 L304.67,114.52 L304.92,114.30 L305.17,114.09 L305.42,113.88 L305.67,113.67 L305.92,113.46 L306.18,113.26 L306.43,113.06 L306.68,112.87 L306.93,112.68 L307.18,112.50 L307.43,112.32 L307.68,112.15 L307.93,111.99 L308.18,111.84 L308.43,111.69 L308.68,111.56 L308.93,111.43 L309.18,111.32 L309.44,111.22 L309.69,111.12 L309.94,111.04 L310.19,110.98 L310.44,110.92 L310.69,110.88 L310.94,110.86 L311.19,110.84 L311.44,110.85 L311.69,110.86 L311.94,110.89 L312.19,110.94 L312.44,111.00 L312.70,111.07 L312.95,111.15 L313.20,111.25 L313.45,111.37 L313.70,111.49 L313.95,111.63 L314.20,111.78 L314.45,111.94 L314.70,112.11 L314.95,112.29 L315.20,112.48 L315.45,112.67 L315.70,112.88 L315.95,113.09 L316.21,113.30 L316.46,113.52 L316.71,113.75 L316.96,113.98 L317.21,114.22 L317.46,114.45 L317.71,114.69 L317.96,114.93 L318.21,115.17 L318.46,115.41 L318.71,115.65 L318.96,115.90 L319.21,116.13 L319.47,116.37 L319.72,116.61 L319.97,116.84 L320.22,117.07 L320.47,117.30 L320.72,117.52 L320.97,117.74 L321.22,117.95 L321.47,118.16 L321.72,118.36 L321.97,118.56 L322.22,118.76 L322.47,118.94 L322.73,119.12 L322.98,119.30 L323.23,119.47 L323.48,119.63 L323.73,119.79 L323.98,119.93 L324.23,120.07 L324.48,120.21 L324.73,120.33 L324.98,120.45 L325.23,120.56 L325.48,120.66 L325.73,120.76 L325.98,120.84 L326.24,120.92 L326.49,120.99 L326.74,121.05 L326.99,121.11 L327.24,121.15 L327.49,121.18 L327.74,121.21 L327.99,121.23 L328.24,121.23 L328.49,121.23 L328.74,121.22 L328.99,121.20 L329.24,121.17 L329.50,121.14 L329.75,121.09 L330.00,121.03 L330.25,120.96 L330.50,120.89 L330.75,120.80 L331.00,120.71 L331.25,120.60 L331.50,120.49 L331.75,120.36 L332.00,120.23 L332.25,120.08 L332.50,119.93 L332.75,119.76 L333.01,119.59 L333.26,119.41 L333.51,119.21 L333.76,119.01 L334.01,118.79 L334.26,118.57 L334.51,118.34 L334.76,118.09 L335.01,117.84 L335.26,117.57 L335.51,117.30 L335.76,117.01 L336.01,116.72 L336.27,116.41 L336.52,116.09 L336.77,115.77 L337.02,115.43 L337.27,115.08 L337.52,114.73 L337.77,114.36 L338.02,113.98 L338.27,113.59 L338.52,113.19 L338.77,112.79 L339.02,112.37 L339.27,111.94 L339.53,111.49 L339.78,111.04 L340.03,110.58 L340.28,110.11 L340.53,109.63 L340.78,109.13 L341.03,108.63 L341.28,108.12 L341.53,107.59 L341.78,107.06 L342.03,106.51 L342.28,105.95 L342.53,105.39 L342.78,104.81 L343.04,104.22 L343.29,103.62 L343.54,103.01 L343.79,102.39 L344.04,101.76 L344.29,101.12 L344.54,100.47 L344.79,99.81 L345.04,99.13 L345.29,98.45 L345.54,97.75 L345.79,97.05 L346.04,96.33 L346.30,95.61 L346.55,94.87 L346.80,94.12 L347.05,93.36 L347.30,92.59 L347.55,91.81 L347.80,91.02 L348.05,90.22 L348.30,89.41 L348.55,88.58 L348.80,87.75 L349.05,86.90 L349.30,86.05 L349.56,85.18 L349.81,84.31 L350.06,83.42 L350.31,82.52 L350.56,81.61 L350.81,80.69 L351.06,79.76 L351.31,78.82 L351.56,77.86 L351.81,76.90 L352.06,75.92 L352.31,74.94 L352.56,73.94 L352.81,72.94 L353.07,71.92 L353.32,70.89 L353.57,69.85 L353.82,68.80 L354.07,67.74 L354.32,66.67 L354.57,65.58 L354.82,64.49 L355.07,63.39 L355.32,62.27 L355.57,61.14 L355.82,60.01 L356.07,58.86 L356.33,57.70 L356.58,56.53 L356.83,55.35 L357.08,54.16 L357.33,52.95 L357.58,51.74 L357.83,50.52 L358.08,49.28 L358.33,48.04 L358.58,46.78 L358.83,45.51 L359.08,44.23 L359.33,42.94 L359.59,41.64 L359.84,40.33 L360.09,39.01 L360.34,37.67 L360.59,36.33 L360.84,34.97 L361.09,33.61 L361.34,32.23 L361.59,30.84 L361.84,29.44 L362.09,28.03 L362.34,26.61 L362.59,25.18 L362.85,23.73 L363.10,22.28 L363.35,20.81 L363.60,19.34 L363.85,17.85 L364.10,16.35 L364.35,14.84 L364.60,13.32 L364.85,11.79 L365.10,10.25 L365.35,8.70 L365.60,7.13 L365.85,5.56 L366.10,3.97 L366.36,2.38 L366.61,0.77 L366.86,-0.85 L367.11,-2.48 L367.36,-4.12 L367.61,-5.77 L367.86,-7.44 L368.11,-9.11 L368.36,-10.80 L368.61,-12.49 L368.86,-14.20 L369.11,-15.92 L369.36,-17.65 L369.62,-19.39 L369.87,-21.14 L370.12,-22.90 L370.37,-24.67 L370.62,-26.46 L370.87,-28.25 L371.12,-30.06 L371.37,-31.88 L371.62,-33.70 L371.87,-35.54 L372.12,-37.39 L372.37,-39.25 L372.62,-41.13 L372.88,-43.01 L373.13,-44.91 L373.38,-46.81 L373.63,-48.73 L373.88,-50.66 L374.13,-52.59 L374.38,-54.54 L374.63,-56.50 L374.88,-58.48 L375.13,-60.46 L375.38,-62.45" stroke="#D95319" stroke-dasharray="2.0 1.77" stroke-width="2.15"/>
<path d="M244.99,-524.23 L245.24,-520.46 L245.49,-516.70 L245.74,-512.96 L246.00,-509.23 L246.25,-505.50 L246.50,-501.79 L246.75,-498.09 L247.00,-494.40 L247.25,-490.72 L247.50,-487.06 L247.75,-483.40 L248.00,-479.75 L248.25,-476.12 L248.50,-472.50 L248.75,-468.89 L249.00,-465.29 L249.26,-461.70 L249.51,-458.12 L249.76,-454.55 L250.01,-451.00 L250.26,-447.45 L250.51,-443.92 L250.76,-440.39 L251.01,-436.88 L251.26,-433.38 L251.51,-429.89 L251.76,-426.42 L252.01,-422.95 L252.26,-419.49 L252.51,-416.05 L252.77,-412.62 L253.02,-409.19 L253.27,-405.78 L253.52,-402.38 L253.77,-398.99 L254.02,-395.62 L254.27,-392.25 L254.52,-388.89 L254.77,-385.55 L255.02,-382.22 L255.27,-378.89 L255.52,-375.58 L255.77,-372.28 L256.03,-369.00 L256.28,-365.72 L256.53,-362.45 L256.78,-359.20 L257.03,-355.95 L257.28,-352.72 L257.53,-349.50 L257.78,-346.29 L258.03,-343.09 L258.28,-339.90 L258.53,-336.73 L258.78,-333.56 L259.03,-330.41 L259.29,-327.26 L259.54,-324.13 L259.79,-321.01 L260.04,-317.90 L260.29,-314.80 L260.54,-311.71 L260.79,-308.64 L261.04,-305.57 L261.29,-302.52 L261.54,-299.48 L261.79,-296.45 L262.04,-293.43 L262.29,-290.42 L262.55,-287.42 L262.80,-284.43 L263.05,-281.46 L263.30,-278.49 L263.55,-275.54 L263.80,-272.60 L264.05,-269.67 L264.30,-266.75 L264.55,-263.84 L264.80,-260.94 L265.05,-258.06 L265.30,-255.18 L265.55,-252.32 L265.80,-249.47 L266.06,-246.63 L266.31,-243.80 L266.56,-240.98 L266.81,-238.18 L267.06,-235.38 L267.31,-232.60 L267.56,-229.82 L267.81,-227.06 L268.06,-224.31 L268.31,-221.57 L268.56,-218.84 L268.81,-216.13 L269.06,-213.42 L269.32,-210.73 L269.57,-208.04 L269.82,-205.37 L270.07,-202.71 L270.32,-200.06 L270.57,-197.43 L270.82,-194.80 L271.07,-192.18 L271.32,-189.58 L271.57,-186.99 L271.82,-184.41 L272.07,-181.84 L272.32,-179.28 L272.58,-176.73 L272.83,-174.20 L273.08,-171.67 L273.33,-169.16 L273.58,-166.66 L273.83,-164.17 L274.08,-161.69 L274.33,-159.22 L274.58,-156.76 L274.83,-154.32 L275.08,-151.89 L275.33,-149.46 L275.58,-147.05 L275.83,-144.65 L276.09,-142.27 L276.34,-139.89 L276.59,-137.53 L276.84,-135.17 L277.09,-132.83 L277.34,-130.50 L277.59,-128.18 L277.84,-125.87 L278.09,-123.58 L278.34,-121.29 L278.59,-119.02 L278.84,-116.76 L279.09,-114.51 L279.35,-112.27 L279.60,-110.04 L279.85,-107.82 L280.10,-105.62 L280.35,-103.43 L280.60,-101.24 L280.85,-99.08 L281.10,-96.92 L281.35,-94.77 L281.60,-92.64 L281.85,-90.51 L282.10,-88.40 L282.35,-86.30 L282.61,-84.21 L282.86,-82.13 L283.11,-80.07 L283.36,-78.01 L283.61,-75.97 L283.86,-73.94 L284.11,-71.92 L284.36,-69.92 L284.61,-67.92 L284.86,-65.94 L285.11,-63.97 L285.36,-62.01 L285.61,-60.06 L285.86,-58.12 L286.12,-56.20 L286.37,-54.28 L286.62,-52.38 L286.87,-50.49 L287.12,-48.61 L287.37,-46.75 L287.62,-44.89 L287.87,-43.05 L288.12,-41.22 L288.37,-39.40 L288.62,-37.60 L288.87,-35.80 L289.12,-34.02 L289.38,-32.25 L289.63,-30.49 L289.88,-28.75 L290.13,-27.01 L290.38,-25.29 L290.63,-23.58 L290.88,-21.89 L291.13,-20.20 L291.38,-18.53 L291.63,-16.87 L291.88,-15.22 L292.13,-13.58 L292.38,-11.96 L292.63,-10.35 L292.89,-8.75 L293.14,-7.16 L293.39,-5.59 L293.64,-4.03 L293.89,-2.48 L294.14,-0.94 L294.39,0.58 L294.64,2.09 L294.89,3.59 L295.14,5.07 L295.39,6.54 L295.64,8.00 L295.89,9.45 L296.15,10.88 L296.40,12.30 L296.65,13.70 L296.90,15.10 L297.15,16.47 L297.40,17.84 L297.65,19.19 L297.90,20.53 L298.15,21.85 L298.40,23.16 L298.65,24.46 L298.90,25.74 L299.15,27.01 L299.41,28.26 L299.66,29.50 L299.91,30.72 L300.16,31.93 L300.41,33.13 L300.66,34.30 L300.91,35.47 L301.16,36.62 L301.41,37.75 L301.66,38.86 L301.91,39.96 L302.16,41.04 L302.41,42.11 L302.67,43.16 L302.92,44.19 L303.17,45.21 L303.42,46.20 L303.67,47.18 L303.92,48.14 L304.17,49.08 L304.42,50.00 L304.67,50.90 L304.92,51.78 L305.17,52.65 L305.42,53.49 L305.67,54.30 L305.92,55.10 L306.18,55.88 L306.43,56.63 L306.68,57.35 L306.93,58.06 L307.18,58.74 L307.43,59.39 L307.68,60.02 L307.93,60.62 L308.18,61.19 L308.43,61.74 L308.68,62.26 L308.93,62.75 L309.18,63.20 L309.44,63.63 L309.69,64.03 L309.94,64.40 L310.19,64.74 L310.44,65.04 L310.69,65.31 L310.94,65.55 L311.19,65.76 L311.44,65.93 L311.69,66.07 L311.94,66.18 L312.19,66.25 L312.44,66.29 L312.70,66.30 L312.95,66.27 L313.20,66.21 L313.45,66.12 L313.70,66.00 L313.95,65.85 L314.20,65.67 L314.45,65.46 L314.70,65.22 L314.95,64.95 L315.20,64.65 L315.45,64.33 L315.70,63.97 L315.95,63.60 L316.21,63.20 L316.46,62.77 L316.71,62.32 L316.96,61.85 L317.21,61.36 L317.46,60.84 L317.71,60.30 L317.96,59.75 L318.21,59.17 L318.46,58.57 L318.71,57.96 L318.96,57.32 L319.21,56.67 L319.47,56.01 L319.72,55.32 L319.97,54.62 L320.22,53.90 L320.47,53.17 L320.72,52.42 L320.97,51.66 L321.22,50.88 L321.47,50.09 L321.72,49.29 L321.97,48.47 L322.22,47.64 L322.47,46.79 L322.73,45.94 L322.98,45.06 L323.23,44.18 L323.48,43.29 L323.73,42.38 L323.98,41.46 L324.23,40.53 L324.48,39.59 L324.73,38.63 L324.98,37.67 L325.23,36.69 L325.48,35.71 L325.73,34.71 L325.98,33.70 L326.24,32.68 L326.49,31.65 L326.74,30.61 L326.99,29.56 L327.24,28.50 L327.49,27.43 L327.74,26.35 L327.99,25.26 L328.24,24.16 L328.49,23.05 L328.74,21.93 L328.99,20.80 L329.24,19.66 L329.50,18.51 L329.75,17.35 L330.00,16.19 L330.25,15.01 L330.50,13.82 L330.75,12.63 L331.00,11.42 L331.25,10.21 L331.50,8.98 L331.75,7.75 L332.00,6.51 L332.25,5.26 L332.50,4.00 L332.75,2.73 L333.01,1.45 L333.26,0.17 L333.51,-1.13 L333.76,-2.43 L334.01,-3.75 L334.26,-5.07 L334.51,-6.40 L334.76,-7.74 L335.01,-9.09 L335.26,-10.45 L335.51,-11.81 L335.76,-13.19 L336.01,-14.57 L336.27,-15.96 L336.52,-17.36 L336.77,-18.77 L337.02,-20.19 L337.27,-21.61 L337.52,-23.05 L337.77,-24.49 L338.02,-25.95 L338.27,-27.41 L338.52,-28.87 L338.77,-30.35 L339.02,-31.84 L339.27,-33.33 L339.53,-34.84 L339.78,-36.35 L340.03,-37.87 L340.28,-39.39 L340.53,-40.93 L340.78,-42.48 L341.03,-44.03 L341.28,-45.59 L341.53,-47.16 L341.78,-48.74 L342.03,-50.33 L342.28,-51.92 L342.53,-53.53 L342.78,-55.14 L343.04,-56.76 L343.29,-58.39 L343.54,-60.02 L343.79,-61.67 L344.04,-63.32 L344.29,-64.98 L344.54,-66.65 L344.79,-68.33 L345.04,-70.02 L345.29,-71.71 L345.54,-73.41 L345.79,-75.12 L346.04,-76.84 L346.30,-78.57 L346.55,-80.31 L346.80,-82.05 L347.05,-83.80 L347.30,-85.56 L347.55,-87.33 L347.80,-89.11 L348.05,-90.89 L348.30,-92.68 L348.55,-94.48 L348.80,-96.29 L349.05,-98.11 L349.30,-99.94 L349.56,-101.77 L349.81,-103.61 L350.06,-105.46 L350.31,-107.32 L350.56,-109.19 L350.81,-111.06 L351.06,-112.94 L351.31,-114.83 L351.56,-116.73 L351.81,-118.64 L352.06,-120.55 L352.31,-122.47 L352.56,-124.41 L352.81,-126.34 L353.07,-128.29 L353.32,-130.25 L353.57,-132.21 L353.82,-134.18 L354.07,-136.16 L354.32,-138.15 L354.57,-140.14 L354.82,-142.15 L355.07,-144.16 L355.32,-146.18 L355.57,-148.20 L355.82,-150.24 L356.07,-152.28 L356.33,-154.33 L356.58,-156.39 L356.83,-158.46 L357.08,-160.54 L357.33,-162.62 L357.58,-164.71 L357.83,-166.81 L358.08,-168.92 L358.33,-171.04 L358.58,-173.16 L358.83,-175.29 L359.08,-177.43 L359.33,-179.58 L359.59,-181.73 L359.84,-183.90 L360.09,-186.07 L360.34,-188.25 L360.59,-190.43 L360.84,-192.63 L361.09,-194.83 L361.34,-197.05 L361.59,-199.26 L361.84,-201.49 L362.09,-203.73 L362.34,-205.97 L362.59,-208.22 L362.85,-210.48 L363.10,-212.75 L363.35,-215.02 L363.60,-217.30 L363.85,-219.60 L364.10,-221.89 L364.35,-224.20 L364.60,-226.52 L364.85,-228.84 L365.10,-231.17 L365.35,-233.51 L365.60,-235.85 L365.85,-238.21 L366.10,-240.57 L366.36,-242.94 L366.61,-245.32 L366.86,-247.70 L367.11,-250.10 L367.36,-252.50 L367.61,-254.91 L367.86,-257.33 L368.11,-259.75 L368.36,-262.19 L368.61,-264.63 L368.86,-267.08 L369.11,-269.53 L369.36,-272.00 L369.62,-274.47 L369.87,-276.95 L370.12,-279.44 L370.37,-281.94 L370.62,-284.44 L370.87,-286.95 L371.12,-289.47 L371.37,-292.00 L371.62,-294.54 L371.87,-297.08 L372.12,-299.63 L372.37,-302.19 L372.62,-304.76 L372.88,-307.33 L373.13,-309.92 L373.38,-312.51 L373.63,-315.11 L373.88,-317.71 L374.13,-320.33 L374.38,-322.95 L374.63,-325.58 L374.88,-328.22 L375.13,-330.87 L375.38,-333.52" stroke="#EDB120" stroke-dasharray="7.4 1.6 3.6 1.7" stroke-width="2.35" stroke-dashoffset="7.48"/>
<path d="M244.99,-57.91 L245.24,-57.20 L245.49,-56.49 L245.74,-55.79 L246.00,-55.08 L246.25,-54.38 L246.50,-53.69 L246.75,-52.99 L247.00,-52.30 L247.25,-51.62 L247.50,-50.93 L247.75,-50.25 L248.00,-49.57 L248.25,-48.89 L248.50,-48.22 L248.75,-47.54 L249.00,-46.88 L249.26,-46.21 L249.51,-45.55 L249.76,-44.89 L250.01,-44.23 L250.26,-43.57 L250.51,-42.92 L250.76,-42.27 L251.01,-41.62 L251.26,-40.98 L251.51,-40.34 L251.76,-39.70 L252.01,-39.06 L252.26,-38.43 L252.51,-37.80 L252.77,-37.17 L253.02,-36.55 L253.27,-35.92 L253.52,-35.31 L253.77,-34.69 L254.02,-34.07 L254.27,-33.46 L254.52,-32.85 L254.77,-32.25 L255.02,-31.65 L255.27,-31.05 L255.52,-30.45 L255.77,-29.85 L256.03,-29.26 L256.28,-28.67 L256.53,-28.09 L256.78,-27.50 L257.03,-26.92 L257.28,-26.34 L257.53,-25.77 L257.78,-25.19 L258.03,-24.62 L258.28,-24.06 L258.53,-23.49 L258.78,-22.93 L259.03,-22.37 L259.29,-21.82 L259.54,-21.26 L259.79,-20.71 L260.04,-20.16 L260.29,-19.62 L260.54,-19.08 L260.79,-18.54 L261.04,-18.00 L261.29,-17.46 L261.54,-16.93 L261.79,-16.40 L262.04,-15.88 L262.29,-15.35 L262.55,-14.83 L262.80,-14.32 L263.05,-13.80 L263.30,-13.29 L263.55,-12.78 L263.80,-12.27 L264.05,-11.77 L264.30,-11.27 L264.55,-10.77 L264.80,-10.27 L265.05,-9.78 L265.30,-9.29 L265.55,-8.80 L265.80,-8.32 L266.06,-7.83 L266.31,-7.36 L266.56,-6.88 L266.81,-6.40 L267.06,-5.93 L267.31,-5.47 L267.56,-5.00 L267.81,-4.54 L268.06,-4.08 L268.31,-3.62 L268.56,-3.16 L268.81,-2.71 L269.06,-2.26 L269.32,-1.82 L269.57,-1.37 L269.82,-0.93 L270.07,-0.49 L270.32,-0.06 L270.57,0.37 L270.82,0.80 L271.07,1.23 L271.32,1.66 L271.57,2.08 L271.82,2.50 L272.07,2.91 L272.32,3.33 L272.58,3.74 L272.83,4.14 L273.08,4.55 L273.33,4.95 L273.58,5.35 L273.83,5.75 L274.08,6.14 L274.33,6.53 L274.58,6.92 L274.83,7.31 L275.08,7.69 L275.33,8.07 L275.58,8.45 L275.83,8.83 L276.09,9.20 L276.34,9.57 L276.59,9.93 L276.84,10.30 L277.09,10.66 L277.34,11.02 L277.59,11.37 L277.84,11.73 L278.09,12.08 L278.34,12.42 L278.59,12.77 L278.84,13.11 L279.09,13.45 L279.35,13.79 L279.60,14.12 L279.85,14.45 L280.10,14.78 L280.35,15.10 L280.60,15.43 L280.85,15.75 L281.10,16.07 L281.35,16.38 L281.60,16.69 L281.85,17.00 L282.10,17.31 L282.35,17.61 L282.61,17.91 L282.86,18.21 L283.11,18.50 L283.36,18.80 L283.61,19.09 L283.86,19.37 L284.11,19.66 L284.36,19.94 L284.61,20.22 L284.86,20.49 L285.11,20.77 L285.36,21.04 L285.61,21.31 L285.86,21.57 L286.12,21.83 L286.37,22.09 L286.62,22.35 L286.87,22.60 L287.12,22.86 L287.37,23.10 L287.62,23.35 L287.87,23.59 L288.12,23.83 L288.37,24.07 L288.62,24.31 L288.87,24.54 L289.12,24.77 L289.38,24.99 L289.63,25.22 L289.88,25.44 L290.13,25.66 L290.38,25.87 L290.63,26.09 L290.88,26.30 L291.13,26.50 L291.38,26.71 L291.63,26.91 L291.88,27.11 L292.13,27.31 L292.38,27.50 L292.63,27.69 L292.89,27.88 L293.14,28.06 L293.39,28.25 L293.64,28.43 L293.89,28.60 L294.14,28.78 L294.39,28.95 L294.64,29.12 L294.89,29.29 L295.14,29.45 L295.39,29.61 L295.64,29.77 L295.89,29.92 L296.15,30.08 L296.40,30.22 L296.65,30.37 L296.90,30.52 L297.15,30.66 L297.40,30.80 L297.65,30.93 L297.90,31.07 L298.15,31.20 L298.40,31.32 L298.65,31.45 L298.90,31.57 L299.15,31.69 L299.41,31.81 L299.66,31.92 L299.91,32.03 L300.16,32.14 L300.41,32.25 L300.66,32.35 L300.91,32.45 L301.16,32.55 L301.41,32.64 L301.66,32.73 L301.91,32.82 L302.16,32.91 L302.41,32.99 L302.67,33.07 L302.92,33.15 L303.17,33.23 L303.42,33.30 L303.67,33.37 L303.92,33.44 L304.17,33.50 L304.42,33.57 L304.67,33.62 L304.92,33.68 L305.17,33.73 L305.42,33.78 L305.67,33.83 L305.92,33.88 L306.18,33.92 L306.43,33.96 L306.68,34.00 L306.93,34.03 L307.18,34.06 L307.43,34.09 L307.68,34.12 L307.93,34.14 L308.18,34.16 L308.43,34.18 L308.68,34.20 L308.93,34.21 L309.18,34.22 L309.44,34.22 L309.69,34.23 L309.94,34.23 L310.19,34.23 L310.44,34.22 L310.69,34.22 L310.94,34.21 L311.19,34.20 L311.44,34.18 L311.69,34.16 L311.94,34.14 L312.19,34.12 L312.44,34.09 L312.70,34.06 L312.95,34.03 L313.20,34.00 L313.45,33.96 L313.70,33.92 L313.95,33.88 L314.20,33.83 L314.45,33.78 L314.70,33.73 L314.95,33.68 L315.20,33.62 L315.45,33.57 L315.70,33.50 L315.95,33.44 L316.21,33.37 L316.46,33.30 L316.71,33.23 L316.96,33.15 L317.21,33.07 L317.46,32.99 L317.71,32.91 L317.96,32.82 L318.21,32.73 L318.46,32.64 L318.71,32.55 L318.96,32.45 L319.21,32.35 L319.47,32.25 L319.72,32.14 L319.97,32.03 L320.22,31.92 L320.47,31.81 L320.72,31.69 L320.97,31.57 L321.22,31.45 L321.47,31.32 L321.72,31.20 L321.97,31.07 L322.22,30.93 L322.47,30.80 L322.73,30.66 L322.98,30.52 L323.23,30.37 L323.48,30.22 L323.73,30.08 L323.98,29.92 L324.23,29.77 L324.48,29.61 L324.73,29.45 L324.98,29.29 L325.23,29.12 L325.48,28.95 L325.73,28.78 L325.98,28.60 L326.24,28.43 L326.49,28.25 L326.74,28.06 L326.99,27.88 L327.24,27.69 L327.49,27.50 L327.74,27.31 L327.99,27.11 L328.24,26.91 L328.49,26.71 L328.74,26.50 L328.99,26.30 L329.24,26.09 L329.50,25.87 L329.75,25.66 L330.00,25.44 L330.25,25.22 L330.50,24.99 L330.75,24.77 L331.00,24.54 L331.25,24.31 L331.50,24.07 L331.75,23.83 L332.00,23.59 L332.25,23.35 L332.50,23.10 L332.75,22.86 L333.01,22.60 L333.26,22.35 L333.51,22.09 L333.76,21.83 L334.01,21.57 L334.26,21.31 L334.51,21.04 L334.76,20.77 L335.01,20.49 L335.26,20.22 L335.51,19.94 L335.76,19.66 L336.01,19.37 L336.27,19.09 L336.52,18.80 L336.77,18.50 L337.02,18.21 L337.27,17.91 L337.52,17.61 L337.77,17.31 L338.02,17.00 L338.27,16.69 L338.52,16.38 L338.77,16.07 L339.02,15.75 L339.27,15.43 L339.53,15.10 L339.78,14.78 L340.03,14.45 L340.28,14.12 L340.53,13.79 L340.78,13.45 L341.03,13.11 L341.28,12.77 L341.53,12.42 L341.78,12.08 L342.03,11.73 L342.28,11.37 L342.53,11.02 L342.78,10.66 L343.04,10.30 L343.29,9.93 L343.54,9.57 L343.79,9.20 L344.04,8.83 L344.29,8.45 L344.54,8.07 L344.79,7.69 L345.04,7.31 L345.29,6.92 L345.54,6.53 L345.79,6.14 L346.04,5.75 L346.30,5.35 L346.55,4.95 L346.80,4.55 L347.05,4.14 L347.30,3.74 L347.55,3.33 L347.80,2.91 L348.05,2.50 L348.30,2.08 L348.55,1.66 L348.80,1.23 L349.05,0.80 L349.30,0.37 L349.56,-0.06 L349.81,-0.49 L350.06,-0.93 L350.31,-1.37 L350.56,-1.82 L350.81,-2.26 L351.06,-2.71 L351.31,-3.16 L351.56,-3.62 L351.81,-4.08 L352.06,-4.54 L352.31,-5.00 L352.56,-5.47 L352.81,-5.93 L353.07,-6.40 L353.32,-6.88 L353.57,-7.36 L353.82,-7.83 L354.07,-8.32 L354.32,-8.80 L354.57,-9.29 L354.82,-9.78 L355.07,-10.27 L355.32,-10.77 L355.57,-11.27 L355.82,-11.77 L356.07,-12.27 L356.33,-12.78 L356.58,-13.29 L356.83,-13.80 L357.08,-14.32 L357.33,-14.83 L357.58,-15.35 L357.83,-15.88 L358.08,-16.40 L358.33,-16.93 L358.58,-17.46 L358.83,-18.00 L359.08,-18.54 L359.33,-19.08 L359.59,-19.62 L359.84,-20.16 L360.09,-20.71 L360.34,-21.26 L360.59,-21.82 L360.84,-22.37 L361.09,-22.93 L361.34,-23.49 L361.59,-24.06 L361.84,-24.62 L362.09,-25.19 L362.34,-25.77 L362.59,-26.34 L362.85,-26.92 L363.10,-27.50 L363.35,-28.09 L363.60,-28.67 L363.85,-29.26 L364.10,-29.85 L364.35,-30.45 L364.60,-31.05 L364.85,-31.65 L365.10,-32.25 L365.35,-32.85 L365.60,-33.46 L365.85,-34.07 L366.10,-34.69 L366.36,-35.31 L366.61,-35.92 L366.86,-36.55 L367.11,-37.17 L367.36,-37.80 L367.61,-38.43 L367.86,-39.06 L368.11,-39.70 L368.36,-40.34 L368.61,-40.98 L368.86,-41.62 L369.11,-42.27 L369.36,-42.92 L369.62,-43.57 L369.87,-44.23 L370.12,-44.89 L370.37,-45.55 L370.62,-46.21 L370.87,-46.88 L371.12,-47.54 L371.37,-48.22 L371.62,-48.89 L371.87,-49.57 L372.12,-50.25 L372.37,-50.93 L372.62,-51.62 L372.88,-52.30 L373.13,-52.99 L373.38,-53.69 L373.63,-54.38 L373.88,-55.08 L374.13,-55.79 L374.38,-56.49 L374.63,-57.20 L374.88,-57.91 L375.13,-58.62 L375.38,-59.34" stroke="#7E2F8E"/>
<line x1="254.53" y1="44.45" x2="279.70" y2="44.45" stroke="#D95319" stroke-width="2.2"/>
<line x1="255.76" y1="49.70" x2="279.70" y2="49.70" stroke="#D95319" stroke-width="2.2"/>
<line x1="257.05" y1="54.95" x2="279.70" y2="54.95" stroke="#D95319" stroke-width="2.2"/>
<line x1="258.38" y1="60.20" x2="279.70" y2="60.20" stroke="#D95319" stroke-width="2.2"/>
<line x1="259.78" y1="65.45" x2="279.70" y2="65.45" stroke="#D95319" stroke-width="2.2"/>
<line x1="261.24" y1="70.70" x2="279.70" y2="70.70" stroke="#D95319" stroke-width="2.2"/>
<line x1="262.79" y1="75.95" x2="279.70" y2="75.95" stroke="#D95319" stroke-width="2.2"/>
<line x1="264.41" y1="81.15" x2="279.70" y2="81.15" stroke="#D95319" stroke-width="2.2"/>
<line x1="266.14" y1="86.35" x2="279.70" y2="86.35" stroke="#D95319" stroke-width="2.2"/>
<line x1="267.68" y1="90.65" x2="279.70" y2="90.65" stroke="#D95319" stroke-width="2.2"/>
<line x1="269.37" y1="95.05" x2="279.70" y2="95.05" stroke="#D95319" stroke-width="2.2"/>
</g>
<g clip-path="url(#cl160)" stroke-width="2.15">
<path d="M247.50,212.14 L247.75,212.13 L248.00,212.12 L248.25,212.10 L248.50,212.09 L248.75,212.07 L249.00,212.05 L249.26,212.03 L249.51,212.00 L249.76,211.98 L250.01,211.94 L250.26,211.91 L250.51,211.87 L250.76,211.83 L251.01,211.78 L251.26,211.73 L251.51,211.67 L251.76,211.60 L252.01,211.53 L252.26,211.46 L252.52,211.37 L252.77,211.28 L253.02,211.17 L253.27,211.06 L253.52,210.93 L253.77,210.80 L254.02,210.64 L254.27,210.47 L254.52,210.28 L254.77,210.06 L255.02,209.81 L255.27,209.53 L255.52,209.20 L255.77,208.82 L256.03,208.38 L256.28,207.87 L256.53,207.28 L256.78,206.60 L257.03,205.80 L257.28,204.89 L257.53,203.84 L257.78,202.64 L258.03,201.29 L258.28,199.77 L258.53,198.08 L258.78,196.22 L259.03,194.20 L259.29,192.03 L259.54,189.72 L259.79,187.29 L260.04,184.79 L260.29,182.24 L260.54,179.70 L260.79,177.21 L261.04,174.81 L261.29,172.57 L261.54,170.54 L261.79,168.77 L262.04,167.30 L262.29,166.17 L262.55,165.41 L262.80,165.05 L263.05,165.09 L263.30,165.53 L263.55,166.36 L263.80,167.56 L264.05,169.10 L264.30,170.93 L264.55,173.01 L264.80,175.28 L265.05,177.70 L265.30,180.21 L265.55,182.76 L265.80,185.30 L266.06,187.79 L266.31,190.19 L266.56,192.47 L266.81,194.62 L267.06,196.61 L267.31,198.43 L267.56,200.09 L267.81,201.57 L268.06,202.89 L268.31,204.06 L268.56,205.08 L268.81,205.97 L269.06,206.74 L269.32,207.41 L269.57,207.98 L269.82,208.48 L270.07,208.90 L270.32,209.27 L270.57,209.59 L270.82,209.86 L271.07,210.10 L271.32,210.32 L271.57,210.51 L271.82,210.67 L272.07,210.83 L272.32,210.96 L272.58,211.08 L272.83,211.19 L273.08,211.30 L273.33,211.39 L273.58,211.47 L273.83,211.55 L274.08,211.62 L274.33,211.68 L274.58,211.74 L274.83,211.79 L275.08,211.84 L275.33,211.88 L275.58,211.92 L275.83,211.95 L276.09,211.98 L276.34,212.01 L276.59,212.03 L276.84,212.05 L277.09,212.07 L277.34,212.09 L277.59,212.11 L277.84,212.12 L278.09,212.13 L278.34,212.14 L278.59,212.15 L278.84,212.16 L279.09,212.16 L279.35,212.17 L279.60,212.17 L279.85,212.18 L280.10,212.18 L280.10,212.20 L247.50,212.20 Z" fill="#4DBEEE" fill-opacity="0.40" stroke="none"/>
<path d="M247.50,212.14 L247.75,212.13 L248.00,212.12 L248.25,212.10 L248.50,212.09 L248.75,212.07 L249.00,212.05 L249.26,212.03 L249.51,212.00 L249.76,211.98 L250.01,211.94 L250.26,211.91 L250.51,211.87 L250.76,211.83 L251.01,211.78 L251.26,211.73 L251.51,211.67 L251.76,211.60 L252.01,211.53 L252.26,211.46 L252.52,211.37 L252.77,211.28 L253.02,211.17 L253.27,211.06 L253.52,210.93 L253.77,210.80 L254.02,210.64 L254.27,210.47 L254.52,210.28 L254.77,210.06 L255.02,209.81 L255.27,209.53 L255.52,209.20 L255.77,208.82 L256.03,208.38 L256.28,207.87 L256.53,207.28 L256.78,206.60 L257.03,205.80 L257.28,204.89 L257.53,203.84 L257.78,202.64 L258.03,201.29 L258.28,199.77 L258.53,198.08 L258.78,196.22 L259.03,194.20 L259.29,192.03 L259.54,189.72 L259.79,187.29 L260.04,184.79 L260.29,182.24 L260.54,179.70 L260.79,177.21 L261.04,174.81 L261.29,172.57 L261.54,170.54 L261.79,168.77 L262.04,167.30 L262.29,166.17 L262.55,165.41 L262.80,165.05 L263.05,165.09 L263.30,165.53 L263.55,166.36 L263.80,167.56 L264.05,169.10 L264.30,170.93 L264.55,173.01 L264.80,175.28 L265.05,177.70 L265.30,180.21 L265.55,182.76 L265.80,185.30 L266.06,187.79 L266.31,190.19 L266.56,192.47 L266.81,194.62 L267.06,196.61 L267.31,198.43 L267.56,200.09 L267.81,201.57 L268.06,202.89 L268.31,204.06 L268.56,205.08 L268.81,205.97 L269.06,206.74 L269.32,207.41 L269.57,207.98 L269.82,208.48 L270.07,208.90 L270.32,209.27 L270.57,209.59 L270.82,209.86 L271.07,210.10 L271.32,210.32 L271.57,210.51 L271.82,210.67 L272.07,210.83 L272.32,210.96 L272.58,211.08 L272.83,211.19 L273.08,211.30 L273.33,211.39 L273.58,211.47 L273.83,211.55 L274.08,211.62 L274.33,211.68 L274.58,211.74 L274.83,211.79 L275.08,211.84 L275.33,211.88 L275.58,211.92 L275.83,211.95 L276.09,211.98 L276.34,212.01 L276.59,212.03 L276.84,212.05 L277.09,212.07 L277.34,212.09 L277.59,212.11 L277.84,212.12 L278.09,212.13 L278.34,212.14 L278.59,212.15 L278.84,212.16 L279.09,212.16 L279.35,212.17 L279.60,212.17 L279.85,212.18 L280.10,212.18" fill="none" stroke="#4DBEEE" stroke-width="2.0"/>
<path d="M244.99,-62.85 L245.24,-52.82 L245.49,-43.03 L245.74,-33.48 L246.00,-24.17 L246.25,-15.08 L246.50,-6.23 L246.75,2.40 L247.00,10.81 L247.25,19.01 L247.50,26.99 L247.75,34.76 L248.00,42.33 L248.25,49.69 L248.50,56.85 L248.75,63.82 L249.00,70.59 L249.26,77.17 L249.51,83.57 L249.76,89.78 L250.01,95.81 L250.26,101.67 L250.51,107.34 L250.76,112.85 L251.01,118.19 L251.26,123.36 L251.51,128.37 L251.76,133.21 L252.01,137.90 L252.26,142.44 L252.51,146.82 L252.77,151.05 L253.02,155.13 L253.27,159.07 L253.52,162.86 L253.77,166.52 L254.02,170.03 L254.27,173.42 L254.52,176.66 L254.77,179.78 L255.02,182.77 L255.27,185.63 L255.52,188.37 L255.77,190.99 L256.03,193.48 L256.28,195.86 L256.53,198.13 L256.78,200.28 L257.03,202.31 L257.28,204.24 L257.53,206.06 L257.78,207.78 L258.03,209.39 L258.28,210.90 L258.53,212.31 L258.78,213.62 L259.03,214.83 L259.29,215.95 L259.54,216.98 L259.79,217.91 L260.04,218.76 L260.29,219.52 L260.54,220.19 L260.79,220.77 L261.04,221.28 L261.29,221.70 L261.54,222.04 L261.79,222.30 L262.04,222.49 L262.29,222.60 L262.55,222.64 L262.80,222.60 L263.05,222.49 L263.30,222.32 L263.55,222.07 L263.80,221.76 L264.05,221.38 L264.30,220.94 L264.55,220.43 L264.80,219.86 L265.05,219.23 L265.30,218.54 L265.55,217.80 L265.80,216.99 L266.06,216.13 L266.31,215.22 L266.56,214.25 L266.81,213.23 L267.06,212.15 L267.31,211.03 L267.56,209.86 L267.81,208.64 L268.06,207.37 L268.31,206.05 L268.56,204.70 L268.81,203.29 L269.06,201.85 L269.32,200.36 L269.57,198.83 L269.82,197.26 L270.07,195.65 L270.32,194.00 L270.57,192.31 L270.82,190.59 L271.07,188.83 L271.32,187.03 L271.57,185.20 L271.82,183.34 L272.07,181.45 L272.32,179.52 L272.58,177.56 L272.83,175.57 L273.08,173.55 L273.33,171.51 L273.58,169.43 L273.83,167.33 L274.08,165.20 L274.33,163.04 L274.58,160.86 L274.83,158.66 L275.08,156.43 L275.33,154.18 L275.58,151.90 L275.83,149.60 L276.09,147.28 L276.34,144.94 L276.59,142.58 L276.84,140.20 L277.09,137.80 L277.34,135.39 L277.59,132.95 L277.84,130.50 L278.09,128.03 L278.34,125.54 L278.59,123.04 L278.84,120.52 L279.09,117.99 L279.35,115.44 L279.60,112.88 L279.85,110.31 L280.10,107.72 L280.35,105.12 L280.60,102.51 L280.85,99.89 L281.10,97.26 L281.35,94.61 L281.60,91.96 L281.85,89.30 L282.10,86.62 L282.35,83.94 L282.61,81.25 L282.86,78.55 L283.11,75.84 L283.36,73.13 L283.61,70.41 L283.86,67.68 L284.11,64.95 L284.36,62.21 L284.61,59.46 L284.86,56.71 L285.11,53.95 L285.36,51.19 L285.61,48.43 L285.86,45.66 L286.12,42.89 L286.37,40.11 L286.62,37.33 L286.87,34.55 L287.12,31.76 L287.37,28.98 L287.62,26.19 L287.87,23.40 L288.12,20.61 L288.37,17.82 L288.62,15.02 L288.87,12.23 L289.12,9.43 L289.38,6.64 L289.63,3.84 L289.88,1.05 L290.13,-1.75 L290.38,-4.54 L290.63,-7.33 L290.88,-10.12 L291.13,-12.91 L291.38,-15.70 L291.63,-18.48 L291.88,-21.27 L292.13,-24.05 L292.38,-26.83 L292.63,-29.61 L292.89,-32.38 L293.14,-35.15 L293.39,-37.92 L293.64,-40.68 L293.89,-43.45 L294.14,-46.20 L294.39,-48.96 L294.64,-51.71 L294.89,-54.45 L295.14,-57.19 L295.39,-59.93 L295.64,-62.66 L295.89,-65.39 L296.15,-68.12 L296.40,-70.83 L296.65,-73.55 L296.90,-76.25 L297.15,-78.96 L297.40,-81.65 L297.65,-84.35 L297.90,-87.03 L298.15,-89.71 L298.40,-92.39 L298.65,-95.05 L298.90,-97.72 L299.15,-100.37 L299.41,-103.02 L299.66,-105.66 L299.91,-108.30 L300.16,-110.93 L300.41,-113.55 L300.66,-116.17 L300.91,-118.78 L301.16,-121.38 L301.41,-123.97 L301.66,-126.56 L301.91,-129.14 L302.16,-131.72 L302.41,-134.28 L302.67,-136.84 L302.92,-139.39 L303.17,-141.93 L303.42,-144.47 L303.67,-147.00 L303.92,-149.52 L304.17,-152.03 L304.42,-154.54 L304.67,-157.03 L304.92,-159.52 L305.17,-162.00 L305.42,-164.47 L305.67,-166.94 L305.92,-169.39 L306.18,-171.84 L306.43,-174.28 L306.68,-176.71 L306.93,-179.13 L307.18,-181.55 L307.43,-183.95 L307.68,-186.35 L307.93,-188.74 L308.18,-191.12 L308.43,-193.49 L308.68,-195.85 L308.93,-198.21 L309.18,-200.55 L309.44,-202.89 L309.69,-205.22 L309.94,-207.53 L310.19,-209.85 L310.44,-212.15 L310.69,-214.44 L310.94,-216.72 L311.19,-219.00 L311.44,-221.26 L311.69,-223.52 L311.94,-225.77 L312.19,-228.01 L312.44,-230.24 L312.70,-232.46 L312.95,-234.67 L313.20,-236.87 L313.45,-239.07 L313.70,-241.25 L313.95,-243.43 L314.20,-245.59 L314.45,-247.75 L314.70,-249.90 L314.95,-252.04 L315.20,-254.17 L315.45,-256.29 L315.70,-258.40 L315.95,-260.51 L316.21,-262.60 L316.46,-264.68 L316.71,-266.76 L316.96,-268.83 L317.21,-270.89 L317.46,-272.93 L317.71,-274.97 L317.96,-277.00 L318.21,-279.03 L318.46,-281.04 L318.71,-283.04 L318.96,-285.04 L319.21,-287.02 L319.47,-289.00 L319.72,-290.96 L319.97,-292.92 L320.22,-294.87 L320.47,-296.81 L320.72,-298.74 L320.97,-300.67 L321.22,-302.58 L321.47,-304.48 L321.72,-306.38 L321.97,-308.27 L322.22,-310.14 L322.47,-312.01 L322.73,-313.87 L322.98,-315.72 L323.23,-317.57 L323.48,-319.40 L323.73,-321.22 L323.98,-323.04 L324.23,-324.85 L324.48,-326.65 L324.73,-328.44 L324.98,-330.22 L325.23,-331.99 L325.48,-333.75 L325.73,-335.51 L325.98,-337.25 L326.24,-338.99 L326.49,-340.72 L326.74,-342.44 L326.99,-344.15 L327.24,-345.86 L327.49,-347.55 L327.74,-349.24 L327.99,-350.91 L328.24,-352.58 L328.49,-354.25 L328.74,-355.90 L328.99,-357.54 L329.24,-359.18 L329.50,-360.81 L329.75,-362.43 L330.00,-364.04 L330.25,-365.64 L330.50,-367.23 L330.75,-368.82 L331.00,-370.40 L331.25,-371.97 L331.50,-373.53 L331.75,-375.09 L332.00,-376.63 L332.25,-378.17 L332.50,-379.70 L332.75,-381.22 L333.01,-382.73 L333.26,-384.24 L333.51,-385.74 L333.76,-387.23 L334.01,-388.71 L334.26,-390.19 L334.51,-391.65 L334.76,-393.11 L335.01,-394.56 L335.26,-396.01 L335.51,-397.44 L335.76,-398.87 L336.01,-400.29 L336.27,-401.70 L336.52,-403.11 L336.77,-404.51 L337.02,-405.90 L337.27,-407.28 L337.52,-408.65 L337.77,-410.02 L338.02,-411.38 L338.27,-412.74 L338.52,-414.08 L338.77,-415.42 L339.02,-416.75 L339.27,-418.08 L339.53,-419.39 L339.78,-420.70 L340.03,-422.00 L340.28,-423.30 L340.53,-424.59 L340.78,-425.87 L341.03,-427.14 L341.28,-428.41 L341.53,-429.67 L341.78,-430.92 L342.03,-432.17 L342.28,-433.41 L342.53,-434.64 L342.78,-435.87 L343.04,-437.09 L343.29,-438.30 L343.54,-439.50 L343.79,-440.70 L344.04,-441.89 L344.29,-443.08 L344.54,-444.26 L344.79,-445.43 L345.04,-446.59 L345.29,-447.75 L345.54,-448.91 L345.79,-450.05 L346.04,-451.19 L346.30,-452.32 L346.55,-453.45 L346.80,-454.57 L347.05,-455.68 L347.30,-456.79 L347.55,-457.89 L347.80,-458.99 L348.05,-460.08 L348.30,-461.16 L348.55,-462.24 L348.80,-463.31 L349.05,-464.37 L349.30,-465.43 L349.56,-466.48 L349.81,-467.53 L350.06,-468.57 L350.31,-469.60 L350.56,-470.63 L350.81,-471.65 L351.06,-472.67 L351.31,-473.68 L351.56,-474.68 L351.81,-475.68 L352.06,-476.67 L352.31,-477.66 L352.56,-478.64 L352.81,-479.62 L353.07,-480.59 L353.32,-481.55 L353.57,-482.51 L353.82,-483.47 L354.07,-484.41 L354.32,-485.36 L354.57,-486.29 L354.82,-487.23 L355.07,-488.15 L355.32,-489.07 L355.57,-489.99 L355.82,-490.90 L356.07,-491.80 L356.33,-492.70 L356.58,-493.60 L356.83,-494.48 L357.08,-495.37 L357.33,-496.25 L357.58,-497.12 L357.83,-497.99 L358.08,-498.85 L358.33,-499.71 L358.58,-500.56 L358.83,-501.41 L359.08,-502.25 L359.33,-503.09 L359.59,-503.92 L359.84,-504.75 L360.09,-505.58 L360.34,-506.39 L360.59,-507.21 L360.84,-508.02 L361.09,-508.82 L361.34,-509.62 L361.59,-510.41 L361.84,-511.20 L362.09,-511.99 L362.34,-512.77 L362.59,-513.54 L362.85,-514.31 L363.10,-515.08 L363.35,-515.84 L363.60,-516.60 L363.85,-517.35 L364.10,-518.10 L364.35,-518.84 L364.60,-519.58 L364.85,-520.32 L365.10,-521.05 L365.35,-521.77 L365.60,-522.50 L365.85,-523.21 L366.10,-523.93 L366.36,-524.64 L366.61,-525.34 L366.86,-526.04 L367.11,-526.74 L367.36,-527.43 L367.61,-528.12 L367.86,-528.80 L368.11,-529.48 L368.36,-530.16 L368.61,-530.83 L368.86,-531.49 L369.11,-532.16 L369.36,-532.82 L369.62,-533.47 L369.87,-534.12 L370.12,-534.77 L370.37,-535.41 L370.62,-536.05 L370.87,-536.69 L371.12,-537.32 L371.37,-537.95 L371.62,-538.57 L371.87,-539.19 L372.12,-539.81 L372.37,-540.42 L372.62,-541.03 L372.88,-541.64 L373.13,-542.24 L373.38,-542.84 L373.63,-543.43 L373.88,-544.02 L374.13,-544.61 L374.38,-545.19 L374.63,-545.77 L374.88,-546.35 L375.13,-546.92 L375.38,-547.49" fill="none" stroke="#0072BD"/>
</g>
<path d="M246.55,138.10 V6.00 H373.35 V138.10 M246.55,146.20 V227.00 H373.35 V146.20 M249.61,6.00 v2.4 M249.61,227.00 v-2.4 M259.70,6.00 v4.4 M259.70,227.00 v-4.4 M269.79,6.00 v2.4 M269.79,227.00 v-2.4 M279.88,6.00 v2.4 M279.88,227.00 v-2.4 M289.97,6.00 v2.4 M289.97,227.00 v-2.4 M300.06,6.00 v2.4 M300.06,227.00 v-2.4 M310.15,6.00 v4.4 M310.15,227.00 v-4.4 M320.24,6.00 v2.4 M320.24,227.00 v-2.4 M330.33,6.00 v2.4 M330.33,227.00 v-2.4 M340.42,6.00 v2.4 M340.42,227.00 v-2.4 M350.51,6.00 v2.4 M350.51,227.00 v-2.4 M360.60,6.00 v4.4 M360.60,227.00 v-4.4 M370.69,6.00 v2.4 M370.69,227.00 v-2.4 M246.55,130.95 h2.4 M373.35,130.95 h-2.4 M246.55,123.60 h2.4 M373.35,123.60 h-2.4 M246.55,116.25 h4.4 M373.35,116.25 h-4.4 M246.55,108.90 h2.4 M373.35,108.90 h-2.4 M246.55,101.55 h2.4 M373.35,101.55 h-2.4 M246.55,94.20 h2.4 M373.35,94.20 h-2.4 M246.55,86.85 h2.4 M373.35,86.85 h-2.4 M246.55,79.50 h4.4 M373.35,79.50 h-4.4 M246.55,72.15 h2.4 M373.35,72.15 h-2.4 M246.55,64.80 h2.4 M373.35,64.80 h-2.4 M246.55,57.45 h2.4 M373.35,57.45 h-2.4 M246.55,50.10 h2.4 M373.35,50.10 h-2.4 M246.55,42.75 h4.4 M373.35,42.75 h-4.4 M246.55,35.40 h2.4 M373.35,35.40 h-2.4 M246.55,28.05 h2.4 M373.35,28.05 h-2.4 M246.55,20.70 h2.4 M373.35,20.70 h-2.4 M246.55,13.35 h2.4 M373.35,13.35 h-2.4 M246.55,6.00 h4.4 M373.35,6.00 h-4.4 M246.55,219.55 h2.4 M373.35,219.55 h-2.4 M246.55,212.20 h4.4 M373.35,212.20 h-4.4 M246.55,204.85 h2.4 M373.35,204.85 h-2.4 M246.55,197.50 h2.4 M373.35,197.50 h-2.4 M246.55,190.15 h2.4 M373.35,190.15 h-2.4 M246.55,182.80 h2.4 M373.35,182.80 h-2.4 M246.55,175.45 h4.4 M373.35,175.45 h-4.4 M246.55,168.10 h2.4 M373.35,168.10 h-2.4 M246.55,160.75 h2.4 M373.35,160.75 h-2.4 M246.55,153.40 h2.4 M373.35,153.40 h-2.4" fill="none" stroke="#4a4a4a" stroke-width="0.75"/>
<g font-size="13" fill="#262626" stroke="#262626" stroke-width="0.1" letter-spacing="-0.1">
<text x="242.55" y="9.30" text-anchor="end">15</text>
<text x="242.55" y="46.05" text-anchor="end">14.5</text>
<text x="242.55" y="82.80" text-anchor="end">14</text>
<text x="242.55" y="119.55" text-anchor="end">13.5</text>
<text x="242.55" y="178.75" text-anchor="end">0.5</text>
<text x="242.55" y="215.50" text-anchor="end">0</text>
<text x="259.30" y="242.4" text-anchor="middle">2</text>
<text x="309.75" y="242.4" text-anchor="middle">3</text>
<text x="360.20" y="242.4" text-anchor="middle">4</text>
</g>
<text x="310.95" y="258.5" text-anchor="middle" font-size="13.8" fill="#262626" letter-spacing="1.0"><tspan font-style="italic">R</tspan> (a.u.)</text>
<text x="369.05" y="216.6" text-anchor="end" font-size="23" fill="#1a1a1a" stroke="#fff" stroke-width="0.3" letter-spacing="0">(b)</text>
<text transform="translate(53.4,95.4) rotate(-90)" text-anchor="middle" font-size="14.5" fill="#262626" letter-spacing="0.55">Energy (eV)</text>
<rect x="0.4" y="162.5" width="61.0" height="60.7" fill="#fff" stroke="#666" stroke-width="0.9"/>
<line x1="4.2" y1="170.9" x2="34.8" y2="170.9" stroke="#7E2F8E" stroke-width="2.2" />
<path d="M39.1,165.40 V176.80 M54.9,165.40 Q56.6,168.40 57.2,171.10 Q56.6,173.80 54.9,176.80" fill="none" stroke="#262626" stroke-width="0.75"/>
<text x="40.8" y="174.30" font-size="11.2" fill="#262626" stroke="#262626" stroke-width="0.08">Φ</text>
<text x="49.4" y="176.60" font-size="8.8" fill="#262626" stroke="#262626" stroke-width="0.15">3</text>
<line x1="4.2" y1="185.2" x2="34.8" y2="185.2" stroke="#EDB120" stroke-width="2.2" stroke-dasharray="7.5 1.6 3.7 2"/>
<path d="M39.1,179.70 V191.10 M54.9,179.70 Q56.6,182.70 57.2,185.40 Q56.6,188.10 54.9,191.10" fill="none" stroke="#262626" stroke-width="0.75"/>
<text x="40.8" y="188.60" font-size="11.2" fill="#262626" stroke="#262626" stroke-width="0.08">Φ</text>
<text x="49.4" y="190.90" font-size="8.8" fill="#262626" stroke="#262626" stroke-width="0.15">2</text>
<line x1="4.2" y1="199.6" x2="34.8" y2="199.6" stroke="#D95319" stroke-width="2.2" stroke-dasharray="1.7 2.07"/>
<path d="M39.1,194.10 V205.50 M54.9,194.10 Q56.6,197.10 57.2,199.80 Q56.6,202.50 54.9,205.50" fill="none" stroke="#262626" stroke-width="0.75"/>
<text x="40.8" y="203.00" font-size="11.2" fill="#262626" stroke="#262626" stroke-width="0.08">Φ</text>
<text x="49.4" y="205.30" font-size="8.8" fill="#262626" stroke="#262626" stroke-width="0.15">1</text>
<line x1="4.2" y1="213.7" x2="34.8" y2="213.7" stroke="#0072BD" stroke-width="2.2" />
<path d="M39.1,208.20 V219.60 M54.9,208.20 Q56.6,211.20 57.2,213.90 Q56.6,216.60 54.9,219.60" fill="none" stroke="#262626" stroke-width="0.75"/>
<text x="40.8" y="217.10" font-size="11.2" fill="#262626" stroke="#262626" stroke-width="0.08">Φ</text>
<text x="49.4" y="219.40" font-size="8.8" fill="#262626" stroke="#262626" stroke-width="0.15">0</text>
</svg></body></html>
